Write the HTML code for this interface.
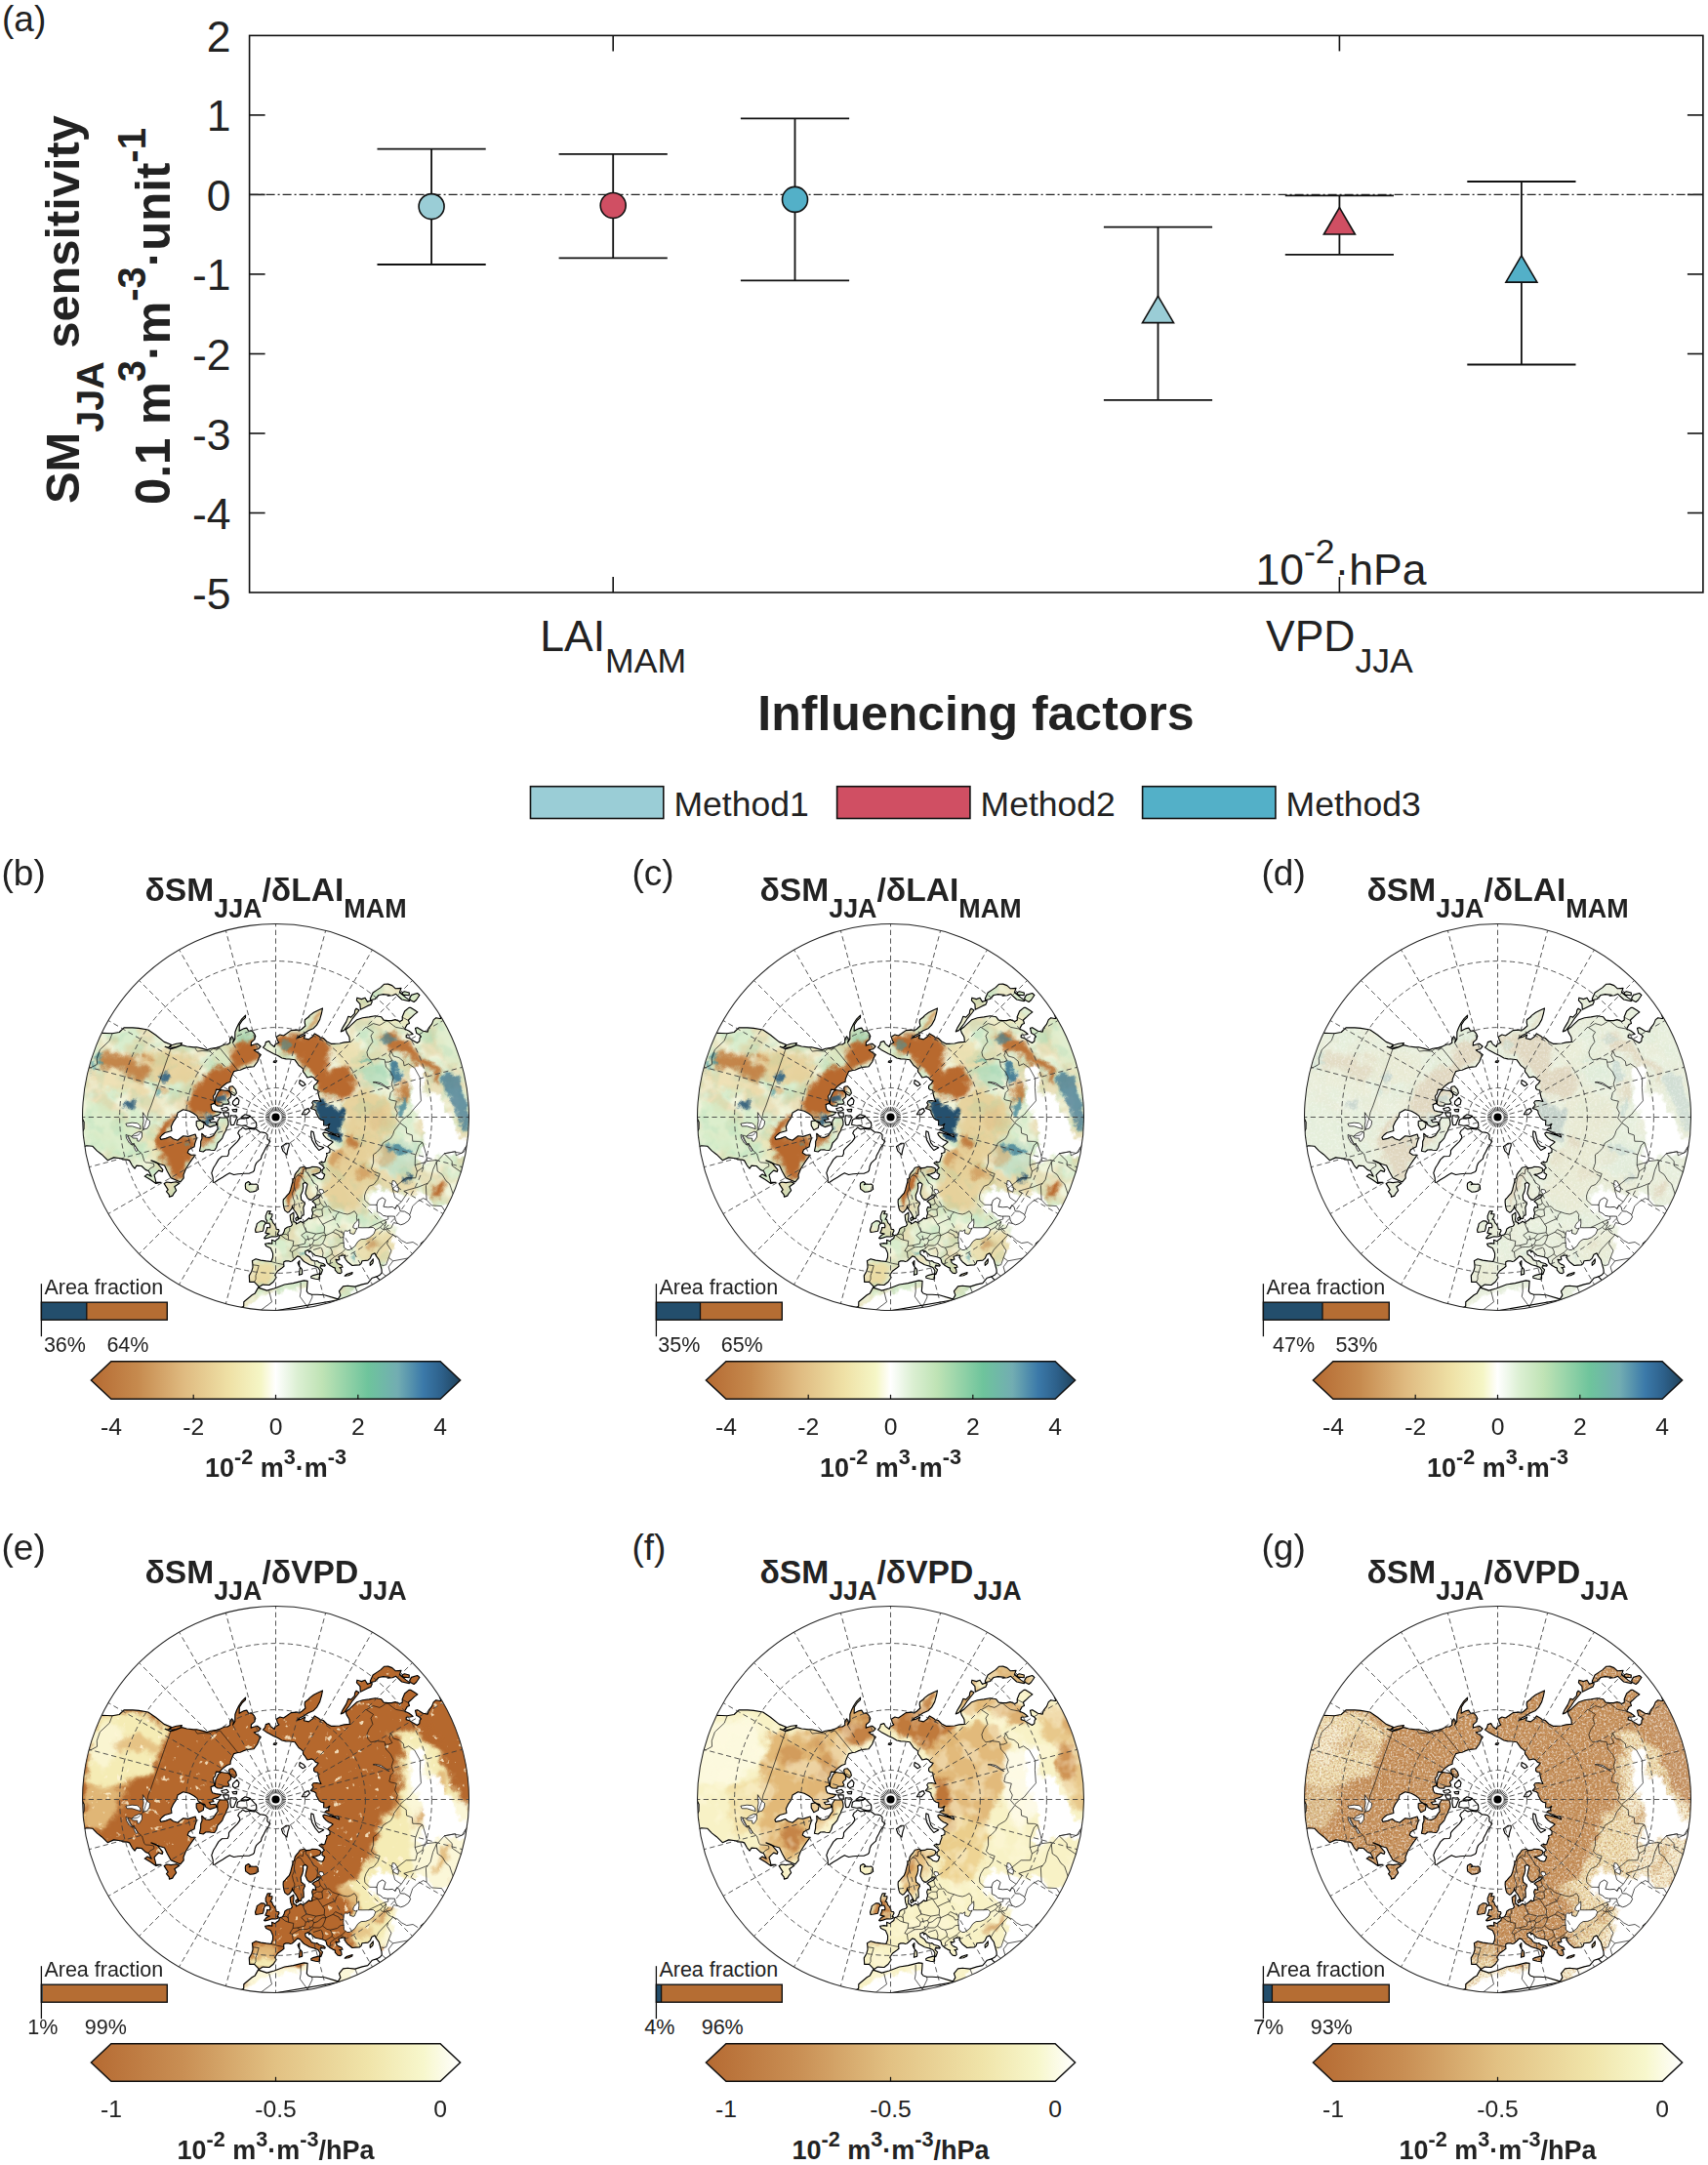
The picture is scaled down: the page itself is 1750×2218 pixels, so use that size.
<!DOCTYPE html><html><head><meta charset="utf-8"><title>Figure</title><style>html,body{margin:0;padding:0;background:#fff}svg{display:block}text{font-family:'Liberation Sans', Arial, Helvetica, sans-serif;fill:#222}</style></head><body><svg width="1750" height="2218" viewBox="0 0 1750 2218">
<defs>
<clipPath id="disc"><circle r="198.0"/></clipPath>
<path id="landp" d="M-192.0,-85.5L-178.3,-86.2L-167.5,-85.7L-160.3,-87.0L-155.5,-91.6L-146.6,-91.6L-140.3,-91.1L-130.8,-89.5L-123.1,-84.3L-114.3,-77.1L-107.1,-74.2L-109.8,-71.3L-113.4,-72.2L-107.6,-69.8L-102.5,-71.2L-96.4,-73.9L-91.1,-72.5L-84.1,-71.6L-81.0,-71.7L-75.5,-70.4L-70.2,-68.9L-66.6,-70.2L-60.7,-71.1L-56.6,-72.4L-52.2,-74.5L-49.3,-74.5L-46.7,-76.2L-47.0,-79.7L-44.9,-82.7L-43.1,-79.4L-44.0,-76.3L-41.7,-80.1L-41.7,-83.7L-41.6,-87.3L-39.9,-91.7L-37.8,-96.0L-34.7,-100.7L-30.9,-104.3L-31.1,-101.9L-34.1,-99.2L-37.2,-94.5L-37.3,-90.0L-37.4,-88.2L-35.2,-89.4L-32.2,-90.9L-29.7,-91.4L-27.8,-88.3L-24.6,-88.6L-22.2,-85.9L-20.7,-83.0L-22.0,-79.4L-25.0,-76.8L-25.3,-73.4L-22.7,-74.2L-18.8,-75.3L-15.4,-72.5L-18.0,-69.7L-22.3,-68.7L-19.8,-66.9L-15.3,-63.9L-17.0,-61.3L-18.9,-56.5L-22.4,-51.8L-26.2,-51.4L-29.5,-51.0L-33.5,-49.6L-36.4,-48.3L-38.8,-48.0L-42.9,-46.9L-44.6,-43.1L-46.3,-38.9L-46.4,-36.3L-50.0,-35.0L-53.7,-32.3L-57.7,-28.1L-61.0,-28.4L-62.2,-23.9L-64.1,-21.5L-63.5,-18.2L-62.5,-14.4L-66.4,-12.9L-66.0,-9.3L-64.8,-6.8L-61.7,-5.9L-55.6,-4.9L-58.9,-2.1L-62.6,-1.1L-65.1,0.0L-63.5,2.2L-68.2,3.0L-66.5,5.2L-61.5,4.8L-60.6,8.0L-64.5,9.1L-67.5,10.1L-71.5,8.1L-72.7,5.1L-75.9,4.0L-79.2,2.1L-80.8,-1.4L-83.9,-3.7L-88.5,-6.2L-94.8,-7.8L-100.5,-4.4L-101.6,0.0L-104.8,4.6L-107.1,9.4L-106.6,14.0L-113.6,16.0L-116.7,18.5L-118.6,20.9L-117.6,22.9L-112.7,21.9L-108.0,20.0L-105.1,22.3L-100.5,23.7L-94.8,19.3L-89.7,19.9L-82.4,17.5L-81.1,21.7L-82.8,26.9L-83.4,30.3L-89.1,33.3L-90.3,36.5L-86.9,38.7L-82.3,38.7L-86.2,43.9L-89.3,48.5L-92.2,53.3L-94.5,59.1L-94.3,62.4L-97.7,66.4L-100.5,65.2L-107.5,62.1L-111.1,55.4L-113.9,49.5L-118.9,48.0L-123.5,45.7L-127.6,44.4L-125.3,45.6L-120.9,47.6L-115.6,53.9L-116.2,55.9L-119.8,54.6L-122.5,57.1L-124.5,59.4L-123.5,62.9L-122.7,66.6L-117.5,66.7L-122.7,68.0L-128.4,64.0L-134.3,60.6L-131.4,58.5L-127.3,60.7L-130.1,55.2L-133.4,53.9L-137.5,50.0L-142.5,49.6L-144.5,52.6L-147.2,49.3L-149.9,44.4L-152.0,43.6L-156.6,43.4L-158.8,42.3L-165.9,41.4L-172.2,44.2L-178.3,38.2L-183.0,34.6L-187.8,29.7L-193.8,29.3L-199.6,31.6L-207.2,35.4L-208.4,27.4L-200.4,25.3L-196.9,20.7L-198.6,16.3L-196.5,12.0L-196.4,5.1L-198.0,1.7L-201.2,-1.8L-199.4,-8.7L-198.7,-13.9L-202.8,-22.4L-208.4,-27.1ZM-64.2,66.7L-64.3,62.1L-65.7,57.1L-63.8,52.0L-61.7,48.7L-58.6,43.4L-55.1,40.3L-49.4,40.0L-48.1,37.6L-48.0,34.2L-46.0,31.6L-42.7,28.3L-39.4,25.1L-36.8,21.7L-37.0,18.8L-38.8,16.5L-37.3,13.6L-35.2,12.1L-33.9,10.5L-30.6,12.4L-27.6,11.7L-24.1,12.3L-20.8,12.0L-18.9,13.2L-16.4,15.3L-13.1,15.6L-10.2,16.3L-8.5,18.2L-8.6,22.4L-5.7,24.8L-7.4,27.5L-10.2,31.4L-12.2,35.5L-14.4,39.6L-15.1,42.6L-17.7,44.9L-20.0,47.2L-21.2,50.0L-22.1,54.6L-23.1,55.9L-26.9,57.6L-32.0,57.8L-38.5,58.2L-42.9,59.0L-47.2,57.2L-50.4,59.0L-54.6,61.7L-58.9,64.2L-62.9,67.0ZM-26.4,76.7L-30.8,73.6L-31.2,70.0L-30.9,67.8L-28.0,66.0L-26.0,67.8L-27.3,69.3L-24.9,68.5L-22.3,68.7L-19.7,68.6L-18.3,69.9L-17.9,73.9L-20.3,75.6L-23.1,76.4ZM-11.9,123.9L-9.5,121.1L-6.3,119.6L-10.6,118.6L-9.1,115.1L-8.9,113.1L-5.9,113.3L-5.6,111.3L-6.6,108.6L-9.5,108.7L-8.9,106.1L-10.2,104.4L-10.3,101.1L-8.4,96.4L-5.2,96.3L-6.9,99.1L-3.5,99.3L-3.7,101.5L-5.5,104.7L-4.0,104.8L-2.8,108.1L-1.1,109.8L0.2,112.4L0.6,114.8L3.0,115.1L3.5,116.4L2.3,118.8L1.7,120.1L2.9,120.4L2.1,121.8L0.0,122.5L-3.8,122.4L-5.4,122.7L-7.8,123.6L-10.9,124.4ZM-20.4,118.0L-21.0,115.5L-19.8,112.0L-19.2,109.1L-15.3,106.4L-13.1,106.4L-11.4,106.9L-10.5,109.0L-12.0,110.8L-12.1,113.1L-13.1,116.7L-17.1,117.5ZM-109.0,81.6L-105.8,80.6L-104.1,77.8L-101.9,75.1L-103.7,71.3L-98.7,67.8L-101.9,66.2L-107.3,67.1L-111.6,66.5L-114.3,68.1L-110.3,74.4L-112.0,76.1L-109.3,79.4ZM-108.8,-71.7L-106.6,-73.8L-101.7,-75.3L-96.1,-75.9L-97.5,-73.5L-102.0,-72.0L-105.9,-71.1ZM-78.1,34.8L-76.9,29.5L-76.8,25.0L-75.5,21.7L-75.8,16.8L-71.6,20.5L-68.2,20.9L-63.9,18.9L-61.7,15.4L-59.3,12.1L-59.7,9.5L-59.7,4.2L-57.4,0.5L-49.7,0.4L-48.6,4.3L-48.5,7.7L-50.5,11.7L-51.0,13.7L-53.1,17.3L-54.8,21.6L-57.1,24.2L-59.5,26.5L-60.8,31.0L-62.7,34.0L-66.4,33.8L-68.3,33.3L-71.8,33.5L-74.3,35.5ZM-62.2,-13.2L-61.6,-20.0L-58.9,-25.6L-56.1,-28.0L-52.3,-27.2L-48.9,-27.1L-46.1,-24.5L-45.8,-20.9L-49.0,-17.8L-47.6,-14.5L-49.5,-13.3L-54.2,-13.5L-54.7,-11.4L-59.4,-11.5ZM-47.1,-31.2L-44.1,-31.7L-41.0,-28.2L-40.1,-24.5L-42.2,-22.0L-44.9,-23.4L-47.3,-26.8L-47.9,-29.9ZM-39.9,7.7L-39.0,2.7L-36.0,1.3L-31.5,1.6L-28.5,0.0L-25.5,-0.4L-22.3,3.1L-20.0,5.4L-19.6,9.1L-21.1,11.4L-24.5,11.4L-28.2,10.3L-31.9,8.5L-35.0,8.7ZM-45.7,8.1L-42.9,8.0L-41.8,5.1L-39.7,0.0L-40.9,-1.8L-43.0,-1.5L-46.3,-1.6L-46.6,3.3ZM-35.4,0.0L-31.4,-2.7L-26.1,-1.1L-28.5,1.0L-33.0,1.4ZM-43.9,-16.0L-39.7,-20.2L-37.5,-17.1L-38.4,-13.2L-42.0,-11.7L-44.1,-13.5ZM-44.5,-7.8L-39.8,-8.1L-40.2,-5.6L-43.3,-5.7ZM-54.1,-4.7L-48.3,-4.6L-48.2,-0.4L-51.9,-0.5ZM-55.8,-8.8L-50.2,-10.2L-48.2,-7.6L-50.9,-6.2L-54.5,-6.7ZM-81.3,4.3L-77.5,3.4L-73.3,6.4L-74.3,11.1L-78.7,13.2L-81.3,8.5ZM49.2,31.3L44.3,34.0L40.7,29.6L37.0,23.1L36.2,18.4L36.4,14.3L38.6,15.2L39.9,21.2L41.2,26.2L43.8,29.5L48.4,30.8ZM11.4,38.6L7.4,34.7L5.9,30.3L8.2,28.6L10.8,26.7L13.6,26.7L13.7,29.4L12.7,32.1L11.9,35.6ZM34.9,-6.2L31.4,-2.7L26.8,-2.8L29.2,-6.8L33.4,-8.9ZM30.5,-33.3L27.6,-31.8L24.2,-34.5L24.6,-37.9L28.2,-36.1ZM1.2,-57.7L0.0,-55.9L-2.3,-56.4L-1.5,-57.7ZM85.5,-109.5L83.2,-106.5L78.8,-101.2L75.1,-95.5L69.9,-88.9L66.7,-87.6L68.7,-91.9L72.2,-97.6L74.4,-103.2L77.2,-102.4L80.8,-106.1L81.2,-109.3L82.6,-111.3ZM98.9,-118.7L97.4,-115.3L94.4,-114.1L86.8,-110.3L86.4,-115.9L82.9,-119.7L83.4,-122.3L87.9,-120.9L91.5,-122.3L94.0,-118.1L96.6,-119.2ZM97.4,-119.9L101.9,-121.0L105.6,-125.0L110.2,-125.9L116.6,-125.1L114.7,-124.3L119.7,-124.8L123.1,-126.2L129.2,-120.5L136.8,-118.9L137.6,-119.6L133.6,-122.4L126.9,-127.8L128.5,-132.1L122.8,-131.7L119.3,-134.9L115.2,-136.4L111.2,-136.3L107.6,-132.9L103.5,-130.1L99.6,-127.5L96.8,-121.3ZM137.9,-119.9L141.6,-118.0L144.0,-120.0L147.4,-125.0L145.1,-127.0L139.0,-125.1L137.2,-121.9ZM130.8,-125.4L136.7,-124.8L136.8,-127.5L131.9,-128.7L129.3,-127.5ZM36.2,163.3L38.3,162.1L44.8,160.4L45.1,165.0L44.6,166.3L40.7,165.7L36.5,164.8ZM23.9,161.8L24.9,153.6L26.9,155.8L27.2,160.6ZM24.2,153.0L24.4,147.1L22.6,149.2ZM96.8,151.9L96.6,149.3L99.8,145.3L99.8,148.0L99.2,149.8ZM70.7,162.7L72.4,161.1L78.6,159.0L78.3,160.5L74.6,162.2ZM21.0,106.1L20.2,103.9L22.3,102.1L23.1,105.0ZM-17.1,173.9L-19.0,171.8L-21.9,168.8L-26.8,168.9L-27.2,162.4L-24.7,158.0L-23.5,153.8L-23.6,150.9L-24.1,147.2L-20.4,145.2L-15.4,146.6L-9.8,147.4L-4.7,148.0L-3.0,143.8L-2.9,139.6L-3.6,137.8L-5.2,134.3L-9.9,132.0L-10.9,129.8L-6.8,129.1L-3.6,129.6L-4.0,125.8L-0.4,127.2L0.4,125.9L3.3,124.1L3.8,121.4L6.9,120.3L8.4,117.8L9.4,114.4L11.9,112.8L15.7,111.7L17.0,110.1L15.2,105.4L14.7,100.5L18.3,97.6L18.5,101.6L17.9,105.0L18.9,107.2L21.0,108.1L20.9,109.5L23.4,108.3L25.6,106.8L27.5,108.0L31.0,106.0L34.2,103.3L35.3,104.3L37.3,103.6L37.0,101.8L38.1,98.8L37.1,94.6L38.1,92.1L41.3,92.8L40.4,88.6L37.5,86.3L39.5,84.8L43.9,82.6L46.4,79.7L43.1,79.4L40.0,82.0L37.4,84.0L36.0,84.9L33.9,84.0L32.4,82.6L30.4,78.3L30.9,75.3L31.8,71.5L32.5,68.7L30.5,66.9L27.9,68.0L28.2,72.3L27.4,76.0L25.7,79.9L26.2,84.7L27.9,85.9L30.1,88.5L29.6,89.4L28.3,92.5L28.6,95.8L28.7,100.2L26.3,101.5L26.2,103.6L24.0,104.1L23.7,103.5L22.7,101.4L20.8,97.8L19.1,95.5L17.8,93.4L17.0,91.0L16.5,93.7L13.6,97.1L12.0,97.6L9.4,95.6L8.5,93.1L7.9,90.0L7.6,86.8L7.8,84.5L9.8,82.4L11.9,79.9L13.8,78.0L15.2,74.5L16.0,71.1L17.1,67.0L17.7,63.6L19.0,62.3L19.7,58.8L21.2,56.7L22.8,55.0L24.9,51.7L27.2,51.2L29.9,50.8L30.7,52.1L32.5,52.1L35.0,51.9L37.0,50.9L42.0,51.0L45.4,52.2L46.5,54.1L45.2,56.8L40.9,58.4L37.5,58.9L40.8,60.4L43.6,62.7L47.1,63.7L48.9,62.6L49.9,59.5L50.2,58.8L47.5,57.0L47.7,53.9L49.8,51.9L48.0,49.8L44.5,47.1L46.9,45.6L48.7,46.4L50.5,45.4L51.1,42.9L52.6,38.9L52.0,37.1L53.4,36.7L55.4,36.0L55.6,32.7L53.2,30.1L56.8,27.1L58.6,25.5L57.0,24.4L54.2,23.2L51.6,21.4L49.3,18.9L48.2,16.6L49.5,15.6L52.5,16.2L56.3,17.4L60.8,18.6L65.1,20.5L64.2,17.8L59.6,17.1L55.3,15.5L52.5,14.1L50.2,13.0L52.2,11.4L54.6,11.6L54.1,9.5L55.4,6.8L52.7,8.6L49.1,8.2L49.3,3.4L46.6,2.7L44.5,1.2L43.0,-1.5L41.6,-4.0L41.3,-6.5L39.2,-8.0L37.2,-8.6L35.8,-9.1L37.5,-11.1L38.6,-12.5L37.2,-14.7L38.6,-16.8L42.2,-17.0L46.4,-16.0L44.8,-19.5L43.7,-23.7L43.2,-27.5L40.7,-28.0L39.0,-29.4L39.2,-32.1L41.9,-34.6L43.6,-37.3L40.9,-38.1L39.0,-40.4L36.8,-41.6L33.6,-40.7L32.3,-40.6L29.9,-44.3L28.0,-46.6L28.0,-49.4L26.5,-50.9L23.6,-53.0L20.4,-57.6L19.7,-58.8L18.0,-59.0L13.7,-59.5L10.5,-59.6L6.4,-60.5L2.2,-62.9L-2.3,-65.1L-5.9,-67.0L-9.7,-69.1L-13.0,-71.4L-11.0,-73.7L-10.1,-76.9L-6.8,-77.9L-5.2,-74.9L-1.3,-72.0L-0.6,-74.5L3.3,-76.6L2.0,-78.2L0.7,-82.3L4.4,-84.5L8.0,-83.5L11.3,-85.7L15.7,-88.9L21.5,-89.4L24.6,-88.9L26.7,-90.3L30.4,-93.5L29.7,-97.2L29.9,-99.8L33.8,-102.7L34.8,-104.1L39.0,-107.2L43.0,-109.3L48.0,-111.6L47.0,-106.5L45.2,-100.1L42.0,-94.3L38.8,-91.1L33.1,-88.5L28.7,-85.6L24.7,-83.5L21.7,-81.1L25.9,-82.2L30.2,-84.4L28.9,-80.8L33.8,-79.6L37.4,-82.2L39.9,-85.6L44.2,-83.1L45.6,-81.6L48.7,-81.0L52.3,-77.5L56.7,-75.2L60.9,-75.2L65.6,-75.5L70.2,-76.6L75.8,-77.1L75.6,-80.5L75.3,-82.2L72.7,-86.6L71.8,-89.6L73.0,-90.7L75.7,-92.8L79.4,-96.3L83.2,-99.8L89.0,-101.7L95.7,-102.6L102.0,-103.8L108.2,-102.7L110.7,-99.4L115.0,-98.9L118.7,-98.9L122.5,-99.9L127.3,-98.0L129.8,-99.6L129.7,-102.8L132.1,-108.5L136.5,-112.1L138.5,-112.1L142.6,-109.4L145.4,-107.6L142.0,-105.1L138.4,-101.7L135.9,-99.5L137.0,-96.0L134.6,-94.9L132.6,-91.4L132.4,-90.3L136.3,-88.5L138.7,-86.7L140.6,-85.1L137.9,-84.5L133.8,-84.3L133.6,-81.9L137.2,-80.8L139.8,-79.1L144.1,-76.6L144.9,-76.0L147.3,-77.7L147.6,-81.1L148.9,-82.5L146.8,-84.8L144.3,-86.0L143.0,-91.1L145.2,-91.8L150.9,-88.2L155.7,-87.4L156.6,-91.2L160.0,-95.4L161.8,-99.9L164.3,-101.8L168.0,-101.0L169.4,-101.0L167.9,-104.9L171.7,-106.5L181.1,-106.7L201.4,-73.3L213.5,-18.7L211.1,37.2L194.2,90.6L179.8,116.7L175.3,116.0L171.7,124.8L165.1,126.7L157.2,128.2L151.7,127.3L148.9,129.4L148.6,131.5L149.2,134.4L154.8,136.0L164.2,137.8L129.0,171.2L117.6,169.2L114.6,164.0L116.1,170.3L116.5,171.5L111.7,170.8L106.5,166.9L103.3,163.4L106.9,161.5L108.7,159.3L108.5,156.1L107.4,152.2L105.8,146.2L102.9,142.2L101.6,139.4L98.5,140.7L96.8,144.6L94.5,146.6L88.5,147.2L87.6,149.9L85.7,151.5L81.6,151.6L78.4,152.0L75.2,149.5L73.6,148.2L71.7,145.8L70.6,143.5L71.2,141.6L69.4,141.7L67.5,141.4L66.4,142.3L64.5,142.8L65.1,144.9L64.5,146.3L61.5,145.7L62.7,149.1L64.4,150.4L67.6,151.8L68.5,153.8L65.4,154.0L67.1,155.7L67.6,159.1L66.3,160.1L63.5,159.6L60.8,156.7L60.9,154.6L58.4,153.6L55.2,151.7L52.5,149.1L51.6,145.6L50.2,144.2L47.6,143.2L40.6,141.7L37.2,138.9L35.2,136.9L34.3,138.6L33.2,136.0L30.2,137.4L30.6,140.5L34.3,142.9L36.8,146.4L40.9,147.5L42.4,147.1L44.7,149.0L48.8,150.0L50.8,151.7L50.2,152.6L46.3,151.6L45.6,154.1L48.1,156.4L47.1,159.0L46.2,161.2L45.1,160.3L45.4,157.2L43.3,154.0L39.4,152.4L38.5,152.2L34.9,151.3L31.8,149.4L29.1,148.1L26.3,145.0L24.7,143.1L22.3,142.4L19.6,145.0L16.8,147.5L15.0,148.0L13.7,147.4L10.3,147.4L8.3,148.2L8.2,150.7L8.5,152.8L5.7,155.1L2.2,157.4L-0.8,161.8L0.6,164.3L-2.4,168.8L-6.6,172.0L-13.2,171.6ZM-18.0,174.6L-9.0,177.6L-1.5,175.5L9.0,171.5L17.9,170.1L28.9,167.4L32.6,167.9L32.3,172.5L31.8,178.4L33.4,180.5L37.0,181.7L42.6,181.7L49.9,182.3L62.2,185.9L64.1,186.1L66.4,182.4L64.9,178.3L69.0,173.4L73.7,172.7L81.3,173.6L88.5,171.4L94.3,170.1L96.6,167.4L98.9,164.7L103.3,163.4L106.5,166.9L112.2,172.8L119.9,177.7L-53.7,207.5L-46.0,200.9L-32.8,193.7L-32.7,189.3L-24.3,182.3L-21.2,180.4Z"/>
<path id="waterp" d="M75.7,136.0L80.9,132.5L84.3,127.3L87.6,125.1L92.3,124.8L96.2,123.2L100.5,119.7L102.3,115.3L100.0,113.0L95.0,113.2L88.6,113.3L84.7,113.2L85.3,109.2L85.2,104.4L82.3,107.2L80.0,110.1L79.1,112.9L81.7,114.5L83.7,113.5L82.3,115.8L80.6,119.5L79.4,119.9L76.0,118.8L76.3,115.3L73.9,116.8L71.3,116.4L69.9,117.7L69.5,121.9L69.3,126.0L69.8,130.2L69.9,133.7L71.7,134.8L73.3,136.0ZM103.3,89.8L105.0,85.0L109.3,82.4L112.6,84.9L110.4,91.7L114.8,92.3L119.7,91.9L122.6,94.1L124.1,90.2L126.5,91.9L127.7,96.3L132.0,96.6L136.8,99.4L138.1,102.2L135.9,106.2L131.6,109.2L128.2,110.3L124.7,108.8L122.6,105.5L122.0,101.7L118.9,101.5L114.0,101.6L110.0,100.8L107.3,98.4L103.9,96.9L103.8,91.8ZM119.7,65.0L118.8,70.0L120.9,74.7L125.3,76.8L126.1,72.8L124.3,68.9L122.1,65.5ZM116.2,-29.0L111.9,-32.1L107.6,-35.0L101.9,-36.1L99.7,-35.7L102.3,-35.2L106.9,-33.7L111.4,-31.5L115.1,-29.1ZM-136.1,-4.8L-132.3,1.2L-128.9,4.0L-129.4,7.9L-131.5,11.5L-136.2,12.9L-136.2,8.3L-135.4,3.5L-136.1,-1.2ZM-153.6,6.7L-147.3,5.7L-141.9,6.2L-139.0,8.5L-138.4,12.1L-141.6,11.1L-147.1,9.3L-152.4,9.3ZM-147.8,19.7L-144.6,17.0L-139.6,14.7L-137.0,15.6L-137.1,20.5L-139.9,24.7L-141.7,24.5L-141.8,21.7L-146.5,21.4ZM-153.5,18.0L-151.6,18.6L-147.3,27.3L-147.0,28.8L-150.0,26.5L-153.0,21.5ZM-145.7,26.5L-142.8,31.7L-141.2,34.2L-143.2,34.9L-145.2,30.9ZM47.3,78.8L44.4,76.8L44.9,73.9L48.3,74.4L49.4,76.7Z"/>
<path id="icep" d="M-64.2,66.7L-64.3,62.1L-65.7,57.1L-63.8,52.0L-61.7,48.7L-58.6,43.4L-55.1,40.3L-49.4,40.0L-48.1,37.6L-48.0,34.2L-46.0,31.6L-42.7,28.3L-39.4,25.1L-36.8,21.7L-37.0,18.8L-38.8,16.5L-37.3,13.6L-35.2,12.1L-33.9,10.5L-30.6,12.4L-27.6,11.7L-24.1,12.3L-20.8,12.0L-18.9,13.2L-16.4,15.3L-13.1,15.6L-10.2,16.3L-8.5,18.2L-8.6,22.4L-5.7,24.8L-7.4,27.5L-10.2,31.4L-12.2,35.5L-14.4,39.6L-15.1,42.6L-17.7,44.9L-20.0,47.2L-21.2,50.0L-22.1,54.6L-23.1,55.9L-26.9,57.6L-32.0,57.8L-38.5,58.2L-42.9,59.0L-47.2,57.2L-50.4,59.0L-54.6,61.7L-58.9,64.2L-62.9,67.0ZM-39.9,7.7L-39.0,2.7L-36.0,1.3L-31.5,1.6L-28.5,0.0L-25.5,-0.4L-22.3,3.1L-20.0,5.4L-19.6,9.1L-21.1,11.4L-24.5,11.4L-28.2,10.3L-31.9,8.5L-35.0,8.7ZM-45.7,8.1L-42.9,8.0L-41.8,5.1L-39.7,0.0L-40.9,-1.8L-43.0,-1.5L-46.3,-1.6L-46.6,3.3ZM-35.4,0.0L-31.4,-2.7L-26.1,-1.1L-28.5,1.0L-33.0,1.4ZM-43.9,-16.0L-39.7,-20.2L-37.5,-17.1L-38.4,-13.2L-42.0,-11.7L-44.1,-13.5ZM-44.5,-7.8L-39.8,-8.1L-40.2,-5.6L-43.3,-5.7ZM-54.1,-4.7L-48.3,-4.6L-48.2,-0.4L-51.9,-0.5ZM-55.8,-8.8L-50.2,-10.2L-48.2,-7.6L-50.9,-6.2L-54.5,-6.7ZM49.2,31.3L44.3,34.0L40.7,29.6L37.0,23.1L36.2,18.4L36.4,14.3L38.6,15.2L39.9,21.2L41.2,26.2L43.8,29.5L48.4,30.8ZM11.4,38.6L7.4,34.7L5.9,30.3L8.2,28.6L10.8,26.7L13.6,26.7L13.7,29.4L12.7,32.1L11.9,35.6ZM34.9,-6.2L31.4,-2.7L26.8,-2.8L29.2,-6.8L33.4,-8.9ZM30.5,-33.3L27.6,-31.8L24.2,-34.5L24.6,-37.9L28.2,-36.1ZM1.2,-57.7L0.0,-55.9L-2.3,-56.4L-1.5,-57.7Z"/>
<path id="borderp" d="M-107.6,-69.8L-127.7,-11.6L-130.6,-4.6L-131.7,1.1L-133.3,5.8L-135.2,12.3L-138.4,15.8L-140.9,18.5L-147.8,19.7L-150.9,18.5L-151.8,20.0L-148.6,26.2L-145.4,28.3L-144.1,29.3L-140.8,34.3L-137.0,37.5L-134.7,45.1L-133.2,46.4L-128.6,46.8L-125.0,47.5L-124.6,50.4L-128.6,52.5L-130.4,54.6M-38.8,-48.0L-57.2,-70.7L-60.3,-69.4L-64.3,-70.1L-67.5,-67.5L-75.5,-68.0L-80.3,-67.4L-82.7,-70.7M-167.5,-85.7L-170.3,-78.3L-180.1,-69.1L-183.2,-60.2L-183.0,-54.2L-189.4,-50.7L-193.7,-50.1L-196.9,-45.4L-194.3,-42.4L-194.9,-39.3L-202.0,-36.7L-209.5,-33.9L-212.6,-26.9M31.3,52.5L30.7,55.7L32.8,58.0L36.5,63.1L38.8,67.2L43.0,70.2L42.9,75.8L42.1,79.9M22.3,59.5L20.2,62.2L19.2,67.1L18.8,73.7L16.9,78.0L18.1,83.6L19.4,86.6L18.9,90.6L18.8,93.2M22.3,59.5L25.4,59.9L27.2,62.6L30.1,67.1M22.3,59.5L25.0,57.4L27.8,58.2L28.4,53.4L31.3,52.5M44.2,82.8L45.7,87.8L49.2,91.8L54.7,91.4L58.2,95.0L61.3,96.2L65.1,97.3L69.1,98.7L73.7,99.5L76.9,98.4L80.7,96.2L83.2,99.8L82.9,103.1L83.3,105.9M40.8,89.9L44.6,89.5L45.7,87.8M37.5,97.6L42.1,94.6L47.4,94.6L49.2,91.8M38.9,99.8L42.7,101.5L44.4,102.2L48.1,100.9L47.4,94.6M37.3,103.6L42.8,101.8L46.8,107.7L50.1,112.5L49.7,118.2L41.2,119.6L36.2,118.4L31.4,117.3L29.3,112.7L27.5,108.0M48.0,109.8L54.4,106.7L61.1,103.8L62.1,100.1L65.1,97.3M49.7,118.2L51.4,121.2L58.7,117.8L61.2,115.0L68.4,118.5M58.7,117.8L64.7,120.6L66.3,123.7L69.7,122.6M51.4,121.2L50.0,125.5L48.0,129.6L52.3,132.8L55.9,133.7L63.0,132.0L66.6,129.1L70.0,128.9M41.2,119.6L37.9,123.9L39.1,126.4L42.7,125.3L47.8,121.2L51.4,121.2M39.1,126.4L37.6,130.1L39.0,131.5L44.8,131.5L48.0,129.6M31.4,117.3L26.2,121.0L30.8,125.5L37.9,123.9M30.8,125.5L29.9,129.6L22.2,131.5L17.6,131.9M22.2,131.5L24.7,133.2L29.2,133.0L32.4,132.9L37.6,130.1M-4.7,148.0L1.8,149.8L8.4,151.0M5.3,121.0L9.8,124.5L13.2,125.8L18.3,126.9L17.6,131.9L14.4,137.1L16.9,137.9L17.7,143.8L19.1,145.1M7.1,120.2L10.5,119.7L12.8,121.5L13.2,125.8M14.3,113.2L14.3,116.6L12.4,118.1L12.8,121.5M16.9,137.9L20.3,135.7L24.7,133.2M16.3,107.6L18.7,107.2M-23.4,151.3L-17.3,152.1L-19.2,158.8L-20.5,162.3L-20.4,166.0L-21.9,168.8M33.2,136.3L39.0,131.5M46.0,133.7L47.1,134.4L48.5,139.2L47.9,143.1M38.5,136.0L46.0,133.7M55.9,133.7L57.8,137.5L57.8,140.2L60.4,143.0L67.7,138.9L71.5,135.0M60.4,143.0L56.1,146.3L55.6,151.1M57.8,140.2L53.5,143.0L50.8,144.4M67.7,138.9L69.7,141.1M102.6,115.5L107.1,112.9L110.5,115.6L112.9,114.9L115.5,118.4L120.0,120.8L115.1,126.0L106.0,135.6L103.3,140.1L102.9,141.7M95.0,113.2L104.8,108.6L111.3,105.6L115.3,104.5L115.1,101.5M107.1,112.9L109.8,109.8L113.3,107.2L111.3,105.6M110.5,115.6L113.3,107.2M112.9,114.9L118.3,113.5L120.9,108.1L125.0,109.0M137.4,99.9L140.3,91.1L145.4,86.4L151.2,83.1L154.6,84.7M120.0,120.8L124.7,122.5L128.9,126.3L134.2,129.1L140.6,128.0L145.7,131.2M115.1,126.0L114.1,129.9L118.4,136.7L115.7,143.9L113.2,151.3L109.6,152.0L108.2,151.1M115.7,143.9L120.2,147.3L115.6,153.4L118.3,162.8L114.7,163.9M120.2,147.3L141.8,143.3L146.3,138.8L146.9,132.8M108.7,159.3L114.4,164.1M104.1,89.9L96.3,89.8L91.3,85.1L91.0,80.5L92.4,76.2L95.7,70.8L100.4,69.0L104.4,64.0L106.7,58.0L101.0,56.0L97.9,53.2L100.1,46.7L100.0,38.4L103.8,35.7L107.5,31.8L110.0,26.4L117.8,21.8L120.1,18.0L121.4,13.8L127.4,6.0M127.4,6.0L123.1,1.1L124.8,-4.4L122.1,-9.6L123.8,-16.3L117.8,-17.6L116.3,-18.4L117.8,-25.0L120.7,-27.9L118.7,-34.0L120.6,-40.4L117.7,-46.4L113.0,-51.5L112.1,-56.4M112.1,-56.4L111.6,-58.9L103.7,-59.9L97.5,-58.6L94.3,-62.4L93.4,-66.6L95.7,-72.1L99.4,-77.1L97.5,-83.3L100.1,-87.1L92.9,-91.9L100.0,-95.9L106.4,-94.1L109.5,-95.9L113.1,-98.3L114.9,-98.4M127.5,4.9L131.7,1.1L136.8,-2.4L141.8,-8.7L148.9,-16.7L147.9,-30.1L148.2,-39.7L142.3,-50.4L136.1,-54.7L131.6,-52.6L130.8,-57.2L126.4,-60.9L120.6,-62.5L118.1,-67.7L116.3,-63.2L119.4,-58.0L115.6,-56.4L112.1,-56.4M127.4,6.0L133.7,10.5L134.1,16.5L139.8,18.4L140.3,24.7L147.1,24.9L150.5,26.0L153.8,36.9L155.3,45.1L164.1,44.0L165.2,45.8L172.7,37.3L182.8,35.5L190.5,37.0L194.9,30.2L203.1,19.6L206.8,7.2L206.0,-7.2L199.7,-21.0L204.3,-26.9M150.5,26.0L147.1,28.6L143.0,39.7L142.7,49.1L144.9,55.6L143.3,62.3L133.6,62.3L119.6,73.3L122.2,82.4L128.7,86.8L121.7,93.4M128.7,86.8L134.7,77.8L131.3,75.8L136.7,74.2L145.8,71.7L155.8,67.7L158.6,64.1L161.1,53.9L164.8,45.7M155.8,67.7L153.9,70.1L154.6,84.7L159.7,90.4L170.0,91.1L173.7,96.7M144.9,55.6L150.5,51.8L151.9,46.4L155.3,45.1M151.9,46.4L142.7,49.1M164.8,45.7L165.7,55.5L170.6,58.8L174.4,65.2L178.2,68.4L182.1,79.9L173.7,96.7M173.7,96.7L186.5,95.1M172.7,37.3L184.1,35.1L184.8,39.3L192.8,35.7L194.9,30.2M180.7,49.8L180.7,45.1L172.7,37.3M180.7,49.8L189.9,56.2L194.3,68.8L197.5,71.9M132.4,-90.3L123.1,-92.1L120.3,-94.0L114.9,-98.4M135.6,-99.2L131.8,-101.2L129.4,-102.5M-6.8,178.0L-4.0,189.3L-17.4,199.3L-30.7,200.9L-31.4,204.9M25.6,169.5L25.7,178.6L24.8,183.8L32.6,194.5L37.5,184.4L37.0,181.7M81.3,173.6L85.0,182.4L90.6,194.2M32.6,194.5L35.1,203.1L37.2,211.1"/>
<filter id="mG" x="0" y="0" width="1" height="1" color-interpolation-filters="sRGB"><feTurbulence type="fractalNoise" baseFrequency="0.045" numOctaves="3" seed="5"/><feColorMatrix type="matrix" values="0 0 0 0 0.725  0 0 0 0 0.886  0 0 0 0 0.737  5 0 0 0 -2.1"/></filter><filter id="mG2" x="0" y="0" width="1" height="1" color-interpolation-filters="sRGB"><feTurbulence type="fractalNoise" baseFrequency="0.06" numOctaves="3" seed="15"/><feColorMatrix type="matrix" values="0 0 0 0 0.498  0 0 0 0 0.780  0 0 0 0 0.651  6 0 0 0 -3.1"/></filter><filter id="mT" x="0" y="0" width="1" height="1" color-interpolation-filters="sRGB"><feTurbulence type="fractalNoise" baseFrequency="0.04" numOctaves="3" seed="21"/><feColorMatrix type="matrix" values="0 0 0 0 0.886  0 0 0 0 0.761  0 0 0 0 0.541  5 0 0 0 -2.2"/></filter><filter id="mT2" x="0" y="0" width="1" height="1" color-interpolation-filters="sRGB"><feTurbulence type="fractalNoise" baseFrequency="0.05" numOctaves="3" seed="33"/><feColorMatrix type="matrix" values="0 0 0 0 0.812  0 0 0 0 0.604  0 0 0 0 0.361  6 0 0 0 -3.0"/></filter><filter id="mW" x="0" y="0" width="1" height="1" color-interpolation-filters="sRGB"><feTurbulence type="fractalNoise" baseFrequency="0.09" numOctaves="3" seed="41"/><feColorMatrix type="matrix" values="0 0 0 0 1.000  0 0 0 0 1.000  0 0 0 0 1.000  6 0 0 0 -3.0"/></filter><filter id="mWs" x="0" y="0" width="1" height="1" color-interpolation-filters="sRGB"><feTurbulence type="fractalNoise" baseFrequency="0.12" numOctaves="3" seed="47"/><feColorMatrix type="matrix" values="0 0 0 0 1.000  0 0 0 0 0.965  0 0 0 0 0.847  10 0 0 0 -7.0"/></filter><filter id="mW2" x="0" y="0" width="1" height="1" color-interpolation-filters="sRGB"><feTurbulence type="fractalNoise" baseFrequency="0.05" numOctaves="3" seed="43"/><feColorMatrix type="matrix" values="0 0 0 0 1.000  0 0 0 0 0.984  0 0 0 0 0.878  5 0 0 0 -2.3"/></filter><filter id="mB" x="0" y="0" width="1" height="1" color-interpolation-filters="sRGB"><feTurbulence type="fractalNoise" baseFrequency="0.05" numOctaves="3" seed="51"/><feColorMatrix type="matrix" values="0 0 0 0 0.710  0 0 0 0 0.408  0 0 0 0 0.176  6 0 0 0 -2.8"/></filter><filter id="mN" x="0" y="0" width="1" height="1" color-interpolation-filters="sRGB"><feTurbulence type="fractalNoise" baseFrequency="0.07" numOctaves="3" seed="61"/><feColorMatrix type="matrix" values="0 0 0 0 0.169  0 0 0 0 0.345  0 0 0 0 0.471  7 0 0 0 -3.9"/></filter><filter id="mY" x="0" y="0" width="1" height="1" color-interpolation-filters="sRGB"><feTurbulence type="fractalNoise" baseFrequency="0.045" numOctaves="3" seed="71"/><feColorMatrix type="matrix" values="0 0 0 0 0.965  0 0 0 0 0.937  0 0 0 0 0.722  5 0 0 0 -2.2"/></filter><filter id="mfine" x="0" y="0" width="1" height="1" color-interpolation-filters="sRGB"><feTurbulence type="fractalNoise" baseFrequency="0.45" numOctaves="2" seed="81"/><feColorMatrix type="matrix" values="0 0 0 0 1.000  0 0 0 0 1.000  0 0 0 0 1.000  4 0 0 0 -1.9"/></filter><filter id="mfineB" x="0" y="0" width="1" height="1" color-interpolation-filters="sRGB"><feTurbulence type="fractalNoise" baseFrequency="0.5" numOctaves="2" seed="91"/><feColorMatrix type="matrix" values="0 0 0 0 0.659  0 0 0 0 0.353  0 0 0 0 0.133  4 0 0 0 -1.9"/></filter><clipPath id="landclip"><use href="#landp"/></clipPath>
<filter id="blur" x="-20%" y="-20%" width="140%" height="140%"><feGaussianBlur stdDeviation="4"/></filter>
<filter id="blur1" x="-20%" y="-20%" width="140%" height="140%"><feGaussianBlur stdDeviation="1.6"/></filter><filter id="rough" x="-10%" y="-10%" width="120%" height="120%" color-interpolation-filters="sRGB"><feGaussianBlur in="SourceGraphic" stdDeviation="2.2" result="b"/><feTurbulence type="fractalNoise" baseFrequency="0.07" numOctaves="3" seed="4" result="n"/><feDisplacementMap in="b" in2="n" scale="16" xChannelSelector="R" yChannelSelector="G"/></filter>
<filter id="rough2" x="-10%" y="-10%" width="120%" height="120%" color-interpolation-filters="sRGB"><feGaussianBlur in="SourceGraphic" stdDeviation="1.2" result="b"/><feTurbulence type="fractalNoise" baseFrequency="0.11" numOctaves="3" seed="9" result="n"/><feDisplacementMap in="b" in2="n" scale="12" xChannelSelector="R" yChannelSelector="G"/></filter>
<filter id="fade" x="0" y="0" width="1" height="1" color-interpolation-filters="sRGB"><feColorMatrix type="matrix" values="0.18 0 0 0 0.75  0 0.18 0 0 0.77  0 0 0.18 0 0.72  0 0 0 1 0"/></filter><filter id="blur2" x="-20%" y="-20%" width="140%" height="140%"><feGaussianBlur stdDeviation="7"/></filter>
<linearGradient id="cb1" x1="0" x2="1" y1="0" y2="0">
<stop offset="0" stop-color="#b56a32"/><stop offset="0.125" stop-color="#c68a4e"/><stop offset="0.25" stop-color="#dfba80"/><stop offset="0.375" stop-color="#efe1a6"/><stop offset="0.46" stop-color="#f5f6c6"/><stop offset="0.5" stop-color="#ffffff"/><stop offset="0.56" stop-color="#dbefd2"/><stop offset="0.625" stop-color="#bfe3b5"/><stop offset="0.75" stop-color="#6ec49c"/><stop offset="0.83" stop-color="#72adb2"/><stop offset="0.9" stop-color="#3b79a9"/><stop offset="0.95" stop-color="#2d608a"/><stop offset="1" stop-color="#20435c"/>
</linearGradient>
<linearGradient id="cb2" x1="0" x2="1" y1="0" y2="0">
<stop offset="0" stop-color="#b56a32"/><stop offset="0.25" stop-color="#c98f54"/><stop offset="0.5" stop-color="#e2c183"/><stop offset="0.75" stop-color="#f0e4a9"/><stop offset="0.9" stop-color="#f7f7cc"/><stop offset="1" stop-color="#ffffff"/>
</linearGradient>
<g id="gridg" fill="none" stroke="#3a3a3a" stroke-width="0.85" stroke-dasharray="5.3,3.4"><circle r="30.0"/><circle r="91.9"/><circle r="159.9"/><line x1="0.0" y1="12.5" x2="0.0" y2="198.0"/><line x1="3.2" y1="12.1" x2="51.2" y2="191.3"/><line x1="6.2" y1="10.8" x2="99.0" y2="171.5"/><line x1="8.8" y1="8.8" x2="140.0" y2="140.0"/><line x1="10.8" y1="6.3" x2="171.5" y2="99.0"/><line x1="12.1" y1="3.2" x2="191.3" y2="51.2"/><line x1="12.5" y1="0.0" x2="198.0" y2="0.0"/><line x1="12.1" y1="-3.2" x2="191.3" y2="-51.2"/><line x1="10.8" y1="-6.2" x2="171.5" y2="-99.0"/><line x1="8.8" y1="-8.8" x2="140.0" y2="-140.0"/><line x1="6.2" y1="-10.8" x2="99.0" y2="-171.5"/><line x1="3.2" y1="-12.1" x2="51.2" y2="-191.3"/><line x1="0.0" y1="-12.5" x2="0.0" y2="-198.0"/><line x1="-3.2" y1="-12.1" x2="-51.2" y2="-191.3"/><line x1="-6.3" y1="-10.8" x2="-99.0" y2="-171.5"/><line x1="-8.8" y1="-8.8" x2="-140.0" y2="-140.0"/><line x1="-10.8" y1="-6.3" x2="-171.5" y2="-99.0"/><line x1="-12.1" y1="-3.2" x2="-191.3" y2="-51.2"/><line x1="-12.5" y1="-0.0" x2="-198.0" y2="-0.0"/><line x1="-12.1" y1="3.2" x2="-191.3" y2="51.2"/><line x1="-10.8" y1="6.3" x2="-171.5" y2="99.0"/><line x1="-8.8" y1="8.8" x2="-140.0" y2="140.0"/><line x1="-6.3" y1="10.8" x2="-99.0" y2="171.5"/><line x1="-3.2" y1="12.1" x2="-51.2" y2="191.3"/></g>
<g id="pole"><path d="M0.00,6.20L0.00,10.60M1.08,6.11L1.84,10.44M2.12,5.83L3.63,9.96M3.10,5.37L5.30,9.18M3.99,4.75L6.81,8.12M4.75,3.99L8.12,6.81M5.37,3.10L9.18,5.30M5.83,2.12L9.96,3.63M6.11,1.08L10.44,1.84M6.20,0.00L10.60,0.00M6.11,-1.08L10.44,-1.84M5.83,-2.12L9.96,-3.63M5.37,-3.10L9.18,-5.30M4.75,-3.99L8.12,-6.81M3.99,-4.75L6.81,-8.12M3.10,-5.37L5.30,-9.18M2.12,-5.83L3.63,-9.96M1.08,-6.11L1.84,-10.44M0.00,-6.20L0.00,-10.60M-1.08,-6.11L-1.84,-10.44M-2.12,-5.83L-3.63,-9.96M-3.10,-5.37L-5.30,-9.18M-3.99,-4.75L-6.81,-8.12M-4.75,-3.99L-8.12,-6.81M-5.37,-3.10L-9.18,-5.30M-5.83,-2.12L-9.96,-3.63M-6.11,-1.08L-10.44,-1.84M-6.20,-0.00L-10.60,-0.00M-6.11,1.08L-10.44,1.84M-5.83,2.12L-9.96,3.63M-5.37,3.10L-9.18,5.30M-4.75,3.99L-8.12,6.81M-3.99,4.75L-6.81,8.12M-3.10,5.37L-5.30,9.18M-2.12,5.83L-3.63,9.96M-1.08,6.11L-1.84,10.44" stroke="#000" stroke-width="0.75" fill="none"/><circle r="4.1" fill="#000"/></g>
</defs>
<rect width="1750" height="2218" fill="#fff"/><g stroke="#111" stroke-width="1.6" fill="none"><rect x="255.6" y="36.4" width="1489.3000000000002" height="570.6"/><line x1="255.6" y1="525.5" x2="271.6" y2="525.5"/><line x1="1744.9" y1="525.5" x2="1728.9" y2="525.5"/><line x1="255.6" y1="444.0" x2="271.6" y2="444.0"/><line x1="1744.9" y1="444.0" x2="1728.9" y2="444.0"/><line x1="255.6" y1="362.5" x2="271.6" y2="362.5"/><line x1="1744.9" y1="362.5" x2="1728.9" y2="362.5"/><line x1="255.6" y1="280.9" x2="271.6" y2="280.9"/><line x1="1744.9" y1="280.9" x2="1728.9" y2="280.9"/><line x1="255.6" y1="199.4" x2="271.6" y2="199.4"/><line x1="1744.9" y1="199.4" x2="1728.9" y2="199.4"/><line x1="255.6" y1="117.9" x2="271.6" y2="117.9"/><line x1="1744.9" y1="117.9" x2="1728.9" y2="117.9"/><line x1="628.2" y1="36.4" x2="628.2" y2="52.4"/><line x1="628.2" y1="607.0" x2="628.2" y2="591.0"/><line x1="1372.4" y1="36.4" x2="1372.4" y2="52.4"/><line x1="1372.4" y1="607.0" x2="1372.4" y2="591.0"/></g><line x1="255.6" y1="199.4" x2="1744.9" y2="199.4" stroke="#222" stroke-width="1.2" stroke-dasharray="9,3,2,3"/><text x="236.6" y="623.5" font-size="44.5" text-anchor="end">-5</text><text x="236.6" y="542.0" font-size="44.5" text-anchor="end">-4</text><text x="236.6" y="460.5" font-size="44.5" text-anchor="end">-3</text><text x="236.6" y="379.0" font-size="44.5" text-anchor="end">-2</text><text x="236.6" y="297.4" font-size="44.5" text-anchor="end">-1</text><text x="236.6" y="215.9" font-size="44.5" text-anchor="end">0</text><text x="236.6" y="134.4" font-size="44.5" text-anchor="end">1</text><text x="236.6" y="52.9" font-size="44.5" text-anchor="end">2</text><path d="M386.5,152.7H497.70000000000005M386.5,271H497.70000000000005M442.1,152.7V271" stroke="#111" stroke-width="1.8" fill="none"/><circle cx="442.1" cy="211.6" r="13" fill="#9acdd6" stroke="#111" stroke-width="1.6"/><path d="M572.6,157.8H683.8000000000001M572.6,264.3H683.8000000000001M628.2,157.8V264.3" stroke="#111" stroke-width="1.8" fill="none"/><circle cx="628.2" cy="210.5" r="13" fill="#d04f63" stroke="#111" stroke-width="1.6"/><path d="M758.9,121.4H870.1M758.9,287.4H870.1M814.5,121.4V287.4" stroke="#111" stroke-width="1.8" fill="none"/><circle cx="814.5" cy="204.4" r="13" fill="#53b0c8" stroke="#111" stroke-width="1.6"/><path d="M1130.9,232.6H1242.1M1130.9,409.8H1242.1M1186.5,232.6V409.8" stroke="#111" stroke-width="1.8" fill="none"/><path d="M1186.5,303.3L1202.5,330.6H1170.5Z" fill="#9acdd6" stroke="#111" stroke-width="1.6" stroke-linejoin="miter"/><path d="M1316.8000000000002,200.3H1428.0M1316.8000000000002,260.8H1428.0M1372.4,200.3V260.8" stroke="#111" stroke-width="1.8" fill="none"/><path d="M1372.4,212.7L1388.4,240.0H1356.4Z" fill="#d04f63" stroke="#111" stroke-width="1.6" stroke-linejoin="miter"/><path d="M1503.3000000000002,186H1614.5M1503.3000000000002,373.5H1614.5M1558.9,186V373.5" stroke="#111" stroke-width="1.8" fill="none"/><path d="M1558.9,261.8L1574.9,289.1H1542.9Z" fill="#53b0c8" stroke="#111" stroke-width="1.6" stroke-linejoin="miter"/><text x="628.2" y="667.4" font-size="44.5" text-anchor="middle">LAI<tspan dy="22" font-size="35.6">MAM</tspan></text><text x="1372.4" y="667.4" font-size="44.5" text-anchor="middle">VPD<tspan dy="22" font-size="35.6">JJA</tspan></text><text x="1286.4" y="598.8" font-size="44.5">10<tspan dy="-22" font-size="35.6">-2</tspan><tspan dy="22">·hPa</tspan></text><text x="1000" y="748.4" font-size="50" font-weight="bold" text-anchor="middle">Influencing factors</text><text transform="translate(80.8,317) rotate(-90)" font-size="48.8" font-weight="bold" text-anchor="middle">SM<tspan dy="25" font-size="39.5">JJA</tspan><tspan dy="-25"> sensitivity</tspan></text><text transform="translate(173.9,324) rotate(-90)" font-size="49.2" font-weight="bold" text-anchor="middle">0.1 m<tspan dy="-25" font-size="40">3</tspan><tspan dy="25">·m</tspan><tspan dy="-25" font-size="40">-3</tspan><tspan dy="25">·unit</tspan><tspan dy="-25" font-size="40">-1</tspan></text><text x="2" y="32" font-size="37">(a)</text><rect x="543.5" y="805.7" width="136.3" height="32.8" fill="#9acdd6" stroke="#111" stroke-width="1.6"/><text x="690.5" y="835.5" font-size="35.5">Method1</text><rect x="857.6" y="805.7" width="136.3" height="32.8" fill="#d04f63" stroke="#111" stroke-width="1.6"/><text x="1004.6" y="835.5" font-size="35.5">Method2</text><rect x="1170.6" y="805.7" width="136.3" height="32.8" fill="#53b0c8" stroke="#111" stroke-width="1.6"/><text x="1317.6" y="835.5" font-size="35.5">Method3</text><g transform="translate(282.5,1144.5)"><g clip-path="url(#disc)"><g clip-path="url(#landclip)"><rect x="-200" y="-200" width="400" height="400" fill="#f0f4da"/><rect x="-200" y="-200" width="400" height="400" filter="url(#mG)" opacity="0.42"/><rect x="-200" y="-200" width="400" height="400" filter="url(#mT)" opacity="0.4"/><g filter="url(#rough)"><path d="M-133.2,-67.1L-108.6,-68.4L-91.4,-63.4L-79.1,-52.4L-84.0,-40.1L-91.4,-35.2L-103.7,-40.1L-115.9,-35.2L-125.8,-40.1L-135.6,-49.9Z" fill="#e6cf98" opacity="0.85"/><path d="M-189.7,-47.5L-171.3,-49.9L-150.4,-45.0L-133.2,-35.2L-128.2,-22.9L-140.5,-18.0L-155.3,-25.3L-171.3,-30.2L-187.3,-35.2Z" fill="#ecd9a6" opacity="0.7"/><path d="M-123.3,6.6L-113.5,18.9L-108.6,37.4L-115.9,49.7L-128.2,43.5L-133.2,25.1Z" fill="#f0e6b8" opacity="0.8"/><path d="M-194.6,-18.0L-171.3,-10.6L-150.4,4.2L-138.1,18.9L-133.2,37.4L-152.8,43.5L-177.4,31.2L-194.6,18.9Z" fill="#d6ecc8" opacity="0.75"/><path d="M-38.5,-88.0L-25.0,-89.3L-21.3,-75.7L-29.9,-67.1L-39.7,-72.1Z" fill="#9fd3b0" opacity="0.85"/><path d="M-72.9,-54.8L-54.5,-57.3L-50.8,-48.7L-66.8,-43.8Z" fill="#bfe2bd" opacity="0.8"/><path d="M-66.8,-73.3L-48.3,-69.6L-42.2,-54.8L-60.6,-57.3Z" fill="#d5ebc8" opacity="0.7"/><path d="M69.2,-18.6L91.4,-25.9L115.9,-21.0L122.1,-2.6L115.9,15.9L103.7,34.3L91.4,46.6L79.1,58.9L61.8,58.9L56.9,40.5L71.7,15.9L69.2,-2.6Z" fill="#e6cf98" opacity="0.9"/><path d="M56.9,-75.1L79.1,-77.6L93.8,-67.7L91.4,-50.5L79.1,-50.5L66.8,-53.0L59.4,-60.4Z" fill="#ecdcaa" opacity="0.8"/><path d="M84.0,-53.0L103.7,-55.5L115.9,-45.6L115.9,-33.3L98.7,-30.9L86.4,-38.2Z" fill="#a9d9b8" opacity="0.7"/><path d="M144.2,-92.3L156.5,-94.8L157.8,-75.1L146.7,-75.1Z" fill="#bfe2bd" opacity="0.7"/><path d="M162.7,-103.4L177.4,-99.7L192.2,-80.0L199.6,-57.9L189.7,-48.1L175.0,-57.9L165.1,-75.1Z" fill="#dfeecd" opacity="0.8"/><path d="M103.7,-107.1L128.2,-109.6L146.7,-103.4L140.5,-91.1L115.9,-89.9L103.7,-94.8Z" fill="#f0ecc4" opacity="0.8"/><path d="M54.1,36.6L72.5,26.7L91.0,36.6L103.3,53.8L100.8,69.8L91.0,82.1L78.7,94.4L63.9,96.8L54.1,89.5L49.2,74.7L54.1,57.5Z" fill="#e6cf98" opacity="0.9"/><path d="M-24.6,148.5L-1.2,152.2L-3.7,168.1L-22.1,170.6Z" fill="#ecd9a0" opacity="0.9"/><path d="M78.7,119.0L103.3,116.5L127.9,125.1L121.7,143.6L91.0,149.7L78.7,141.1Z" fill="#eadba8" opacity="0.8"/><path d="M109.4,24.3L140.2,24.3L146.3,45.2L127.9,59.9L109.4,51.3Z" fill="#bcdcc4" opacity="0.65"/><path d="M103.3,51.3L127.9,59.9L146.3,64.9L140.2,82.1L115.6,75.9L100.8,69.8Z" fill="#e8d5a2" opacity="0.8"/></g><rect x="-200" y="-200" width="400" height="400" filter="url(#mG2)" opacity="0.15"/><g filter="url(#rough)"><path d="M-49.6,-68.4L-38.5,-72.7L-29.9,-79.4L-23.7,-84.3L-19.4,-74.5L-14.9,-64.7L-18.6,-55.8L-27.4,-51.8L-37.3,-48.1L-43.4,-54.8Z" fill="#b8692e" opacity="1.0"/><path d="M-36.6,-48.7L-42.2,-40.1L-47.1,-25.3L-55.7,-15.5L-60.6,-5.7L-74.1,0.5L-86.4,-6.6L-93.8,-8.1L-101.2,-4.2L-107.3,3.2L-115.9,6.9L-122.1,13.0L-123.3,23.9L-116.9,21.6L-108.3,14.3L-103.4,6.9L-97.3,0.7L-92.3,-7.5L-89.9,-18.0L-86.2,-25.3L-78.8,-35.2L-69.0,-45.0L-56.7,-54.2L-46.8,-55.5Z" fill="#b8692e" opacity="1.0"/><path d="M-123.3,23.9L-115.9,18.9L-103.7,22.6L-91.4,18.9L-82.1,17.7L-79.1,26.3L-84.0,33.7L-85.8,42.3L-92.0,54.6L-98.7,66.3L-105.5,62.0L-111.0,54.6L-115.3,44.8L-120.3,35.5Z" fill="#b8692e" opacity="1.0"/><ellipse cx="-71.7" cy="20.2" rx="7.4" ry="8.6" fill="#b8692e" opacity="0.9" transform="rotate(0 -71.7 20.2)"/><path d="M-184.8,-54.8L-177.4,-63.4L-165.1,-67.1L-150.4,-61.0L-138.1,-54.8L-128.2,-46.2L-133.2,-37.6L-144.2,-40.1L-155.3,-46.2L-165.1,-48.7L-177.4,-49.9Z" fill="#c27f42" opacity="0.95"/><ellipse cx="-131.9" cy="-60.4" rx="4.3" ry="3.4" fill="#c27f42" opacity="0.9" transform="rotate(0 -131.9 -60.4)"/><ellipse cx="-115.9" cy="-27.8" rx="6.1" ry="4.3" fill="#d9b078" opacity="0.8" transform="rotate(0 -115.9 -27.8)"/><path d="M1.6,-75.1L9.0,-83.7L17.6,-86.2L25.0,-85.0L33.6,-82.5L42.2,-83.7L50.8,-77.6L57.2,-70.2L54.7,-60.4L52.3,-50.5L46.1,-45.6L42.4,-38.2L34.8,-45.6L28.6,-53.0L22.5,-59.1L17.6,-65.3L10.2,-67.7L4.1,-70.2Z" fill="#b8692e" opacity="1.0"/><path d="M45.9,-35.8L52.0,-40.7L59.4,-48.1L66.8,-53.0L74.1,-50.5L79.3,-41.9L79.3,-30.9L76.8,-23.5L69.2,-19.5L61.8,-20.8L54.5,-19.5L48.3,-22.0L44.6,-28.4Z" fill="#b8692e" opacity="1.0"/><path d="M33.6,-48.1L44.6,-50.5L54.5,-50.5L56.9,-40.7L47.1,-33.3L39.7,-35.8Z" fill="#b8692e" opacity="1.0"/><ellipse cx="79.7" cy="24.7" rx="6.1" ry="7.1" fill="#bd7438" opacity="0.95" transform="rotate(0 79.7 24.7)"/><ellipse cx="39.7" cy="-99.7" rx="2.7" ry="11.1" fill="#cc9050" opacity="0.9" transform="rotate(30 39.7 -99.7)"/><path d="M106.1,-83.7L115.9,-85.0L128.2,-82.5L136.8,-75.1L143.2,-65.3L156.8,-57.9L165.4,-48.1L170.3,-38.2L165.4,-35.5L157.8,-45.4L147.9,-52.7L138.1,-58.9L128.2,-65.0L118.4,-72.4L108.6,-77.3Z" fill="#bd7438" opacity="1.0"/><path d="M128.2,-40.7L134.4,-33.3L137.1,-23.5L134.4,-13.4L128.2,-15.9L127.0,-28.4Z" fill="#c07a3c" opacity="0.95"/><ellipse cx="61.8" cy="40.5" rx="7.4" ry="8.6" fill="#d0995a" opacity="0.8" transform="rotate(0 61.8 40.5)"/><ellipse cx="103.7" cy="1.1" rx="9.8" ry="12.3" fill="#e0c088" opacity="0.6" transform="rotate(0 103.7 1.1)"/><path d="M17.2,59.9L25.8,52.6L32.2,53.8L27.3,62.4L22.4,72.2L17.5,84.5L12.5,94.4L8.6,93.1L9.8,82.1L13.5,69.8Z" fill="#b8692e" opacity="1.0"/><ellipse cx="40.6" cy="55.0" rx="6.1" ry="2.2" fill="#cc9050" opacity="0.9" transform="rotate(0 40.6 55.0)"/><ellipse cx="78.7" cy="23.1" rx="5.9" ry="5.9" fill="#c27f42" opacity="0.9" transform="rotate(0 78.7 23.1)"/><ellipse cx="91.0" cy="57.5" rx="9.8" ry="5.5" fill="#d0995a" opacity="0.8" transform="rotate(20 91.0 57.5)"/><ellipse cx="167.2" cy="73.5" rx="4.9" ry="10.5" fill="#b8692e" opacity="1" transform="rotate(20 167.2 73.5)"/><ellipse cx="98.4" cy="130.0" rx="8.6" ry="2.7" fill="#c98f54" opacity="0.95" transform="rotate(-30 98.4 130.0)"/><ellipse cx="113.1" cy="39.0" rx="7.4" ry="9.8" fill="#d3a66c" opacity="0.6" transform="rotate(0 113.1 39.0)"/></g><g filter="url(#rough2)"><path d="M39.7,-16.1L45.9,-17.3L54.5,-11.2L61.8,-8.7L69.2,-10.0L71.9,-5.0L67.0,3.6L67.0,13.4L68.2,22.0L61.8,24.7L54.5,19.8L48.3,9.7L44.6,1.1L42.2,-8.7Z" fill="#25506e" opacity="1.0"/><ellipse cx="122.1" cy="-45.6" rx="4.7" ry="11.7" fill="#3b7592" opacity="0.9" transform="rotate(-15 122.1 -45.6)"/><ellipse cx="129.5" cy="-10.0" rx="3.7" ry="11.7" fill="#4a8a9a" opacity="0.85" transform="rotate(0 129.5 -10.0)"/><path d="M172.5,-43.2L179.9,-45.6L188.5,-38.2L194.6,-21.0L198.3,1.1L197.1,15.9L192.2,14.6L187.3,-1.4L181.1,-14.9L173.7,-27.2L168.8,-35.8Z" fill="#3f7592" opacity="0.75"/><ellipse cx="115.9" cy="-80.0" rx="6.8" ry="3.7" fill="#4d8390" opacity="0.75" transform="rotate(0 115.9 -80.0)"/><ellipse cx="10.2" cy="-73.9" rx="6.8" ry="4.3" fill="#4d949a" opacity="0.6" transform="rotate(0 10.2 -73.9)"/><ellipse cx="93.8" cy="-57.9" rx="6.1" ry="3.1" fill="#5fae9f" opacity="0.6" transform="rotate(30 93.8 -57.9)"/><ellipse cx="-113.5" cy="-41.3" rx="4.7" ry="5.5" fill="#2f6283" opacity="0.9" transform="rotate(0 -113.5 -41.3)"/><ellipse cx="-149.1" cy="-13.0" rx="7.1" ry="4.9" fill="#2c5a78" opacity="0.9" transform="rotate(0 -149.1 -13.0)"/><ellipse cx="-120.9" cy="-25.3" rx="3.7" ry="4.9" fill="#5a9fa3" opacity="0.7" transform="rotate(0 -120.9 -25.3)"/><ellipse cx="-181.1" cy="-61.0" rx="3.7" ry="6.1" fill="#4d949a" opacity="0.8" transform="rotate(0 -181.1 -61.0)"/><ellipse cx="-187.3" cy="-51.1" rx="2.7" ry="3.7" fill="#4d949a" opacity="0.7" transform="rotate(0 -187.3 -51.1)"/><ellipse cx="-56.9" cy="-19.2" rx="4.7" ry="5.5" fill="#2c5a78" opacity="0.85" transform="rotate(0 -56.9 -19.2)"/><ellipse cx="-68.0" cy="3.0" rx="5.5" ry="4.9" fill="#2c5a78" opacity="0.85" transform="rotate(0 -68.0 3.0)"/><ellipse cx="-61.8" cy="14.0" rx="3.7" ry="3.7" fill="#3b7592" opacity="0.7" transform="rotate(0 -61.8 14.0)"/><ellipse cx="-91.4" cy="28.8" rx="2.7" ry="2.7" fill="#4d949a" opacity="0.6" transform="rotate(0 -91.4 28.8)"/><ellipse cx="100.8" cy="31.8" rx="0.0" ry="0.0" fill="#000" opacity="0" transform="rotate(0 100.8 31.8)"/><ellipse cx="125.4" cy="32.9" rx="13.5" ry="4.7" fill="#3f8096" opacity="0.8" transform="rotate(10 125.4 32.9)"/><ellipse cx="135.3" cy="62.4" rx="3.4" ry="3.4" fill="#25506e" opacity="0.85" transform="rotate(0 135.3 62.4)"/><ellipse cx="25.8" cy="139.9" rx="3.7" ry="1.5" fill="#4d949a" opacity="0.7" transform="rotate(0 25.8 139.9)"/><ellipse cx="78.7" cy="143.6" rx="3.7" ry="3.1" fill="#5a9fa3" opacity="0.6" transform="rotate(0 78.7 143.6)"/></g><g filter="url(#rough2)"><path d="M139.3,-49.3L146.7,-51.8L151.6,-45.6L153.1,-33.3L151.6,-21.0L149.1,-11.2L144.2,-4.8L139.3,-6.3L140.5,-16.1L138.1,-25.9L136.8,-38.2Z" fill="#fff" opacity="1.0"/><path d="M151.6,-21.0L159.0,-25.9L167.6,-21.0L173.7,-8.7L182.3,3.6L188.5,19.5L194.6,22.0L204.5,22.0L204.5,42.9L189.7,40.5L175.0,38.0L165.1,40.5L156.5,47.8L149.1,50.3L146.7,40.5L152.8,30.6L151.6,15.9L147.9,3.6L146.7,-6.3Z" fill="#fff" opacity="1.0"/><path d="M94.7,82.1L103.3,72.2L121.7,74.7L140.2,82.1L150.0,75.9L157.4,82.1L159.8,91.9L179.5,89.5L179.5,143.6L152.5,162.0L127.9,174.3L103.3,180.4L91.0,187.8L78.7,180.4L91.0,168.1L109.4,155.8L117.4,142.3L118.7,126.3L121.7,114.0L127.9,112.8L115.6,110.4L107.0,103.0L95.9,96.8Z" fill="#fff" opacity="1.0"/><path d="M-32.0,195.2L-18.4,186.0L-1.2,179.8L27.1,176.1L36.9,171.8L54.1,180.4L66.4,187.8L91.0,187.8L91.0,206.0L-32.0,206.0Z" fill="#fff" opacity="1.0"/></g><use href="#icep" fill="#fff"/></g><use href="#waterp" fill="#fff"/><use href="#borderp" fill="none" stroke="#111" stroke-width="0.7"/><use href="#landp" fill="none" stroke="#000" stroke-width="1.15" stroke-linejoin="round"/><use href="#waterp" fill="none" stroke="#111" stroke-width="0.8"/><use href="#gridg"/></g><use href="#pole"/><circle r="198.0" fill="none" stroke="#222" stroke-width="1.05"/></g><text x="1.5" y="907" font-size="37">(b)</text><text x="282.5" y="923.0" font-size="33.6" font-weight="bold" text-anchor="middle">δSM<tspan dy="16.5" font-size="26.9">JJA</tspan><tspan dy="-16.5">/δLAI</tspan><tspan dy="16.5" font-size="26.9">MAM</tspan></text><line x1="42.4" y1="1315.2" x2="42.4" y2="1369.2" stroke="#111" stroke-width="1.3"/><text x="45.4" y="1325.7" font-size="21.5">Area fraction</text><rect x="42.4" y="1334.2" width="128.9" height="18" fill="#b56d33"/><rect x="42.4" y="1334.2" width="46.4" height="18" fill="#234e6c"/><rect x="42.4" y="1334.2" width="128.9" height="18" fill="none" stroke="#111" stroke-width="1.4"/><line x1="88.8" y1="1334.2" x2="88.8" y2="1352.2" stroke="#111" stroke-width="1.3"/><text x="66.4" y="1384.7" font-size="21.5" text-anchor="middle">36%</text><text x="130.9" y="1384.7" font-size="21.5" text-anchor="middle">64%</text><path d="M93.4,1414.05L113.9,1394.8H451.1L471.6,1414.05L451.1,1433.3H113.9Z" fill="url(#cb1)" stroke="#111" stroke-width="1.5" stroke-linejoin="miter"/><text x="113.9" y="1469.5" font-size="24.7" text-anchor="middle">-4</text><line x1="198.2" y1="1433.3" x2="198.2" y2="1428.8" stroke="#111" stroke-width="1.2"/><text x="198.2" y="1469.5" font-size="24.7" text-anchor="middle">-2</text><line x1="282.5" y1="1433.3" x2="282.5" y2="1428.8" stroke="#111" stroke-width="1.2"/><text x="282.5" y="1469.5" font-size="24.7" text-anchor="middle">0</text><line x1="366.8" y1="1433.3" x2="366.8" y2="1428.8" stroke="#111" stroke-width="1.2"/><text x="366.8" y="1469.5" font-size="24.7" text-anchor="middle">2</text><text x="451.1" y="1469.5" font-size="24.7" text-anchor="middle">4</text><text x="282.5" y="1512.8" font-size="27" font-weight="bold" text-anchor="middle">10<tspan dy="-13" font-size="21.6">-2</tspan><tspan dy="13"> m</tspan><tspan dy="-13" font-size="21.6">3</tspan><tspan dy="13">·m</tspan><tspan dy="-13" font-size="21.6">-3</tspan></text><g transform="translate(912.5,1144.5)"><g clip-path="url(#disc)"><g clip-path="url(#landclip)"><rect x="-200" y="-200" width="400" height="400" fill="#f0f4da"/><rect x="-200" y="-200" width="400" height="400" filter="url(#mG)" opacity="0.42"/><rect x="-200" y="-200" width="400" height="400" filter="url(#mT)" opacity="0.4"/><g filter="url(#rough)"><path d="M-133.2,-67.1L-108.6,-68.4L-91.4,-63.4L-79.1,-52.4L-84.0,-40.1L-91.4,-35.2L-103.7,-40.1L-115.9,-35.2L-125.8,-40.1L-135.6,-49.9Z" fill="#e6cf98" opacity="0.85"/><path d="M-189.7,-47.5L-171.3,-49.9L-150.4,-45.0L-133.2,-35.2L-128.2,-22.9L-140.5,-18.0L-155.3,-25.3L-171.3,-30.2L-187.3,-35.2Z" fill="#ecd9a6" opacity="0.7"/><path d="M-123.3,6.6L-113.5,18.9L-108.6,37.4L-115.9,49.7L-128.2,43.5L-133.2,25.1Z" fill="#f0e6b8" opacity="0.8"/><path d="M-194.6,-18.0L-171.3,-10.6L-150.4,4.2L-138.1,18.9L-133.2,37.4L-152.8,43.5L-177.4,31.2L-194.6,18.9Z" fill="#d6ecc8" opacity="0.75"/><path d="M-38.5,-88.0L-25.0,-89.3L-21.3,-75.7L-29.9,-67.1L-39.7,-72.1Z" fill="#9fd3b0" opacity="0.85"/><path d="M-72.9,-54.8L-54.5,-57.3L-50.8,-48.7L-66.8,-43.8Z" fill="#bfe2bd" opacity="0.8"/><path d="M-66.8,-73.3L-48.3,-69.6L-42.2,-54.8L-60.6,-57.3Z" fill="#d5ebc8" opacity="0.7"/><path d="M69.2,-18.6L91.4,-25.9L115.9,-21.0L122.1,-2.6L115.9,15.9L103.7,34.3L91.4,46.6L79.1,58.9L61.8,58.9L56.9,40.5L71.7,15.9L69.2,-2.6Z" fill="#e6cf98" opacity="0.9"/><path d="M56.9,-75.1L79.1,-77.6L93.8,-67.7L91.4,-50.5L79.1,-50.5L66.8,-53.0L59.4,-60.4Z" fill="#ecdcaa" opacity="0.8"/><path d="M84.0,-53.0L103.7,-55.5L115.9,-45.6L115.9,-33.3L98.7,-30.9L86.4,-38.2Z" fill="#a9d9b8" opacity="0.7"/><path d="M144.2,-92.3L156.5,-94.8L157.8,-75.1L146.7,-75.1Z" fill="#bfe2bd" opacity="0.7"/><path d="M162.7,-103.4L177.4,-99.7L192.2,-80.0L199.6,-57.9L189.7,-48.1L175.0,-57.9L165.1,-75.1Z" fill="#dfeecd" opacity="0.8"/><path d="M103.7,-107.1L128.2,-109.6L146.7,-103.4L140.5,-91.1L115.9,-89.9L103.7,-94.8Z" fill="#f0ecc4" opacity="0.8"/><path d="M54.1,36.6L72.5,26.7L91.0,36.6L103.3,53.8L100.8,69.8L91.0,82.1L78.7,94.4L63.9,96.8L54.1,89.5L49.2,74.7L54.1,57.5Z" fill="#e6cf98" opacity="0.9"/><path d="M-24.6,148.5L-1.2,152.2L-3.7,168.1L-22.1,170.6Z" fill="#ecd9a0" opacity="0.9"/><path d="M78.7,119.0L103.3,116.5L127.9,125.1L121.7,143.6L91.0,149.7L78.7,141.1Z" fill="#eadba8" opacity="0.8"/><path d="M109.4,24.3L140.2,24.3L146.3,45.2L127.9,59.9L109.4,51.3Z" fill="#bcdcc4" opacity="0.65"/><path d="M103.3,51.3L127.9,59.9L146.3,64.9L140.2,82.1L115.6,75.9L100.8,69.8Z" fill="#e8d5a2" opacity="0.8"/></g><rect x="-200" y="-200" width="400" height="400" filter="url(#mG2)" opacity="0.15"/><g filter="url(#rough)"><path d="M-49.6,-68.4L-38.5,-72.7L-29.9,-79.4L-23.7,-84.3L-19.4,-74.5L-14.9,-64.7L-18.6,-55.8L-27.4,-51.8L-37.3,-48.1L-43.4,-54.8Z" fill="#b8692e" opacity="1.0"/><path d="M-36.6,-48.7L-42.2,-40.1L-47.1,-25.3L-55.7,-15.5L-60.6,-5.7L-74.1,0.5L-86.4,-6.6L-93.8,-8.1L-101.2,-4.2L-107.3,3.2L-115.9,6.9L-122.1,13.0L-123.3,23.9L-116.9,21.6L-108.3,14.3L-103.4,6.9L-97.3,0.7L-92.3,-7.5L-89.9,-18.0L-86.2,-25.3L-78.8,-35.2L-69.0,-45.0L-56.7,-54.2L-46.8,-55.5Z" fill="#b8692e" opacity="1.0"/><path d="M-123.3,23.9L-115.9,18.9L-103.7,22.6L-91.4,18.9L-82.1,17.7L-79.1,26.3L-84.0,33.7L-85.8,42.3L-92.0,54.6L-98.7,66.3L-105.5,62.0L-111.0,54.6L-115.3,44.8L-120.3,35.5Z" fill="#b8692e" opacity="1.0"/><ellipse cx="-71.7" cy="20.2" rx="7.4" ry="8.6" fill="#b8692e" opacity="0.9" transform="rotate(0 -71.7 20.2)"/><path d="M-184.8,-54.8L-177.4,-63.4L-165.1,-67.1L-150.4,-61.0L-138.1,-54.8L-128.2,-46.2L-133.2,-37.6L-144.2,-40.1L-155.3,-46.2L-165.1,-48.7L-177.4,-49.9Z" fill="#c27f42" opacity="0.95"/><ellipse cx="-131.9" cy="-60.4" rx="4.3" ry="3.4" fill="#c27f42" opacity="0.9" transform="rotate(0 -131.9 -60.4)"/><ellipse cx="-115.9" cy="-27.8" rx="6.1" ry="4.3" fill="#d9b078" opacity="0.8" transform="rotate(0 -115.9 -27.8)"/><path d="M1.6,-75.1L9.0,-83.7L17.6,-86.2L25.0,-85.0L33.6,-82.5L42.2,-83.7L50.8,-77.6L57.2,-70.2L54.7,-60.4L52.3,-50.5L46.1,-45.6L42.4,-38.2L34.8,-45.6L28.6,-53.0L22.5,-59.1L17.6,-65.3L10.2,-67.7L4.1,-70.2Z" fill="#b8692e" opacity="1.0"/><path d="M45.9,-35.8L52.0,-40.7L59.4,-48.1L66.8,-53.0L74.1,-50.5L79.3,-41.9L79.3,-30.9L76.8,-23.5L69.2,-19.5L61.8,-20.8L54.5,-19.5L48.3,-22.0L44.6,-28.4Z" fill="#b8692e" opacity="1.0"/><path d="M33.6,-48.1L44.6,-50.5L54.5,-50.5L56.9,-40.7L47.1,-33.3L39.7,-35.8Z" fill="#b8692e" opacity="1.0"/><ellipse cx="79.7" cy="24.7" rx="6.1" ry="7.1" fill="#bd7438" opacity="0.95" transform="rotate(0 79.7 24.7)"/><ellipse cx="39.7" cy="-99.7" rx="2.7" ry="11.1" fill="#cc9050" opacity="0.9" transform="rotate(30 39.7 -99.7)"/><path d="M106.1,-83.7L115.9,-85.0L128.2,-82.5L136.8,-75.1L143.2,-65.3L156.8,-57.9L165.4,-48.1L170.3,-38.2L165.4,-35.5L157.8,-45.4L147.9,-52.7L138.1,-58.9L128.2,-65.0L118.4,-72.4L108.6,-77.3Z" fill="#bd7438" opacity="1.0"/><path d="M128.2,-40.7L134.4,-33.3L137.1,-23.5L134.4,-13.4L128.2,-15.9L127.0,-28.4Z" fill="#c07a3c" opacity="0.95"/><ellipse cx="61.8" cy="40.5" rx="7.4" ry="8.6" fill="#d0995a" opacity="0.8" transform="rotate(0 61.8 40.5)"/><ellipse cx="103.7" cy="1.1" rx="9.8" ry="12.3" fill="#e0c088" opacity="0.6" transform="rotate(0 103.7 1.1)"/><path d="M17.2,59.9L25.8,52.6L32.2,53.8L27.3,62.4L22.4,72.2L17.5,84.5L12.5,94.4L8.6,93.1L9.8,82.1L13.5,69.8Z" fill="#b8692e" opacity="1.0"/><ellipse cx="40.6" cy="55.0" rx="6.1" ry="2.2" fill="#cc9050" opacity="0.9" transform="rotate(0 40.6 55.0)"/><ellipse cx="78.7" cy="23.1" rx="5.9" ry="5.9" fill="#c27f42" opacity="0.9" transform="rotate(0 78.7 23.1)"/><ellipse cx="91.0" cy="57.5" rx="9.8" ry="5.5" fill="#d0995a" opacity="0.8" transform="rotate(20 91.0 57.5)"/><ellipse cx="167.2" cy="73.5" rx="4.9" ry="10.5" fill="#b8692e" opacity="1" transform="rotate(20 167.2 73.5)"/><ellipse cx="98.4" cy="130.0" rx="8.6" ry="2.7" fill="#c98f54" opacity="0.95" transform="rotate(-30 98.4 130.0)"/><ellipse cx="113.1" cy="39.0" rx="7.4" ry="9.8" fill="#d3a66c" opacity="0.6" transform="rotate(0 113.1 39.0)"/></g><g filter="url(#rough2)"><path d="M39.7,-16.1L45.9,-17.3L54.5,-11.2L61.8,-8.7L69.2,-10.0L71.9,-5.0L67.0,3.6L67.0,13.4L68.2,22.0L61.8,24.7L54.5,19.8L48.3,9.7L44.6,1.1L42.2,-8.7Z" fill="#25506e" opacity="1.0"/><ellipse cx="122.1" cy="-45.6" rx="4.7" ry="11.7" fill="#3b7592" opacity="0.9" transform="rotate(-15 122.1 -45.6)"/><ellipse cx="129.5" cy="-10.0" rx="3.7" ry="11.7" fill="#4a8a9a" opacity="0.85" transform="rotate(0 129.5 -10.0)"/><path d="M172.5,-43.2L179.9,-45.6L188.5,-38.2L194.6,-21.0L198.3,1.1L197.1,15.9L192.2,14.6L187.3,-1.4L181.1,-14.9L173.7,-27.2L168.8,-35.8Z" fill="#3f7592" opacity="0.75"/><ellipse cx="115.9" cy="-80.0" rx="6.8" ry="3.7" fill="#4d8390" opacity="0.75" transform="rotate(0 115.9 -80.0)"/><ellipse cx="10.2" cy="-73.9" rx="6.8" ry="4.3" fill="#4d949a" opacity="0.6" transform="rotate(0 10.2 -73.9)"/><ellipse cx="93.8" cy="-57.9" rx="6.1" ry="3.1" fill="#5fae9f" opacity="0.6" transform="rotate(30 93.8 -57.9)"/><ellipse cx="-113.5" cy="-41.3" rx="4.7" ry="5.5" fill="#2f6283" opacity="0.9" transform="rotate(0 -113.5 -41.3)"/><ellipse cx="-149.1" cy="-13.0" rx="7.1" ry="4.9" fill="#2c5a78" opacity="0.9" transform="rotate(0 -149.1 -13.0)"/><ellipse cx="-120.9" cy="-25.3" rx="3.7" ry="4.9" fill="#5a9fa3" opacity="0.7" transform="rotate(0 -120.9 -25.3)"/><ellipse cx="-181.1" cy="-61.0" rx="3.7" ry="6.1" fill="#4d949a" opacity="0.8" transform="rotate(0 -181.1 -61.0)"/><ellipse cx="-187.3" cy="-51.1" rx="2.7" ry="3.7" fill="#4d949a" opacity="0.7" transform="rotate(0 -187.3 -51.1)"/><ellipse cx="-56.9" cy="-19.2" rx="4.7" ry="5.5" fill="#2c5a78" opacity="0.85" transform="rotate(0 -56.9 -19.2)"/><ellipse cx="-68.0" cy="3.0" rx="5.5" ry="4.9" fill="#2c5a78" opacity="0.85" transform="rotate(0 -68.0 3.0)"/><ellipse cx="-61.8" cy="14.0" rx="3.7" ry="3.7" fill="#3b7592" opacity="0.7" transform="rotate(0 -61.8 14.0)"/><ellipse cx="-91.4" cy="28.8" rx="2.7" ry="2.7" fill="#4d949a" opacity="0.6" transform="rotate(0 -91.4 28.8)"/><ellipse cx="100.8" cy="31.8" rx="0.0" ry="0.0" fill="#000" opacity="0" transform="rotate(0 100.8 31.8)"/><ellipse cx="125.4" cy="32.9" rx="13.5" ry="4.7" fill="#3f8096" opacity="0.8" transform="rotate(10 125.4 32.9)"/><ellipse cx="135.3" cy="62.4" rx="3.4" ry="3.4" fill="#25506e" opacity="0.85" transform="rotate(0 135.3 62.4)"/><ellipse cx="25.8" cy="139.9" rx="3.7" ry="1.5" fill="#4d949a" opacity="0.7" transform="rotate(0 25.8 139.9)"/><ellipse cx="78.7" cy="143.6" rx="3.7" ry="3.1" fill="#5a9fa3" opacity="0.6" transform="rotate(0 78.7 143.6)"/></g><g filter="url(#rough2)"><path d="M139.3,-49.3L146.7,-51.8L151.6,-45.6L153.1,-33.3L151.6,-21.0L149.1,-11.2L144.2,-4.8L139.3,-6.3L140.5,-16.1L138.1,-25.9L136.8,-38.2Z" fill="#fff" opacity="1.0"/><path d="M151.6,-21.0L159.0,-25.9L167.6,-21.0L173.7,-8.7L182.3,3.6L188.5,19.5L194.6,22.0L204.5,22.0L204.5,42.9L189.7,40.5L175.0,38.0L165.1,40.5L156.5,47.8L149.1,50.3L146.7,40.5L152.8,30.6L151.6,15.9L147.9,3.6L146.7,-6.3Z" fill="#fff" opacity="1.0"/><path d="M94.7,82.1L103.3,72.2L121.7,74.7L140.2,82.1L150.0,75.9L157.4,82.1L159.8,91.9L179.5,89.5L179.5,143.6L152.5,162.0L127.9,174.3L103.3,180.4L91.0,187.8L78.7,180.4L91.0,168.1L109.4,155.8L117.4,142.3L118.7,126.3L121.7,114.0L127.9,112.8L115.6,110.4L107.0,103.0L95.9,96.8Z" fill="#fff" opacity="1.0"/><path d="M-32.0,195.2L-18.4,186.0L-1.2,179.8L27.1,176.1L36.9,171.8L54.1,180.4L66.4,187.8L91.0,187.8L91.0,206.0L-32.0,206.0Z" fill="#fff" opacity="1.0"/></g><use href="#icep" fill="#fff"/></g><use href="#waterp" fill="#fff"/><use href="#borderp" fill="none" stroke="#111" stroke-width="0.7"/><use href="#landp" fill="none" stroke="#000" stroke-width="1.15" stroke-linejoin="round"/><use href="#waterp" fill="none" stroke="#111" stroke-width="0.8"/><use href="#gridg"/></g><use href="#pole"/><circle r="198.0" fill="none" stroke="#222" stroke-width="1.05"/></g><text x="647.5" y="907" font-size="37">(c)</text><text x="912.5" y="923.0" font-size="33.6" font-weight="bold" text-anchor="middle">δSM<tspan dy="16.5" font-size="26.9">JJA</tspan><tspan dy="-16.5">/δLAI</tspan><tspan dy="16.5" font-size="26.9">MAM</tspan></text><line x1="672.4" y1="1315.2" x2="672.4" y2="1369.2" stroke="#111" stroke-width="1.3"/><text x="675.4" y="1325.7" font-size="21.5">Area fraction</text><rect x="672.4" y="1334.2" width="128.9" height="18" fill="#b56d33"/><rect x="672.4" y="1334.2" width="45.1" height="18" fill="#234e6c"/><rect x="672.4" y="1334.2" width="128.9" height="18" fill="none" stroke="#111" stroke-width="1.4"/><line x1="717.5" y1="1334.2" x2="717.5" y2="1352.2" stroke="#111" stroke-width="1.3"/><text x="695.8" y="1384.7" font-size="21.5" text-anchor="middle">35%</text><text x="760.2" y="1384.7" font-size="21.5" text-anchor="middle">65%</text><path d="M723.4,1414.05L743.9,1394.8H1081.1L1101.6,1414.05L1081.1,1433.3H743.9Z" fill="url(#cb1)" stroke="#111" stroke-width="1.5" stroke-linejoin="miter"/><text x="743.9" y="1469.5" font-size="24.7" text-anchor="middle">-4</text><line x1="828.2" y1="1433.3" x2="828.2" y2="1428.8" stroke="#111" stroke-width="1.2"/><text x="828.2" y="1469.5" font-size="24.7" text-anchor="middle">-2</text><line x1="912.5" y1="1433.3" x2="912.5" y2="1428.8" stroke="#111" stroke-width="1.2"/><text x="912.5" y="1469.5" font-size="24.7" text-anchor="middle">0</text><line x1="996.8" y1="1433.3" x2="996.8" y2="1428.8" stroke="#111" stroke-width="1.2"/><text x="996.8" y="1469.5" font-size="24.7" text-anchor="middle">2</text><text x="1081.1" y="1469.5" font-size="24.7" text-anchor="middle">4</text><text x="912.5" y="1512.8" font-size="27" font-weight="bold" text-anchor="middle">10<tspan dy="-13" font-size="21.6">-2</tspan><tspan dy="13"> m</tspan><tspan dy="-13" font-size="21.6">3</tspan><tspan dy="13">·m</tspan><tspan dy="-13" font-size="21.6">-3</tspan></text><g transform="translate(1534.5,1144.5)"><g clip-path="url(#disc)"><g clip-path="url(#landclip)"><rect x="-200" y="-200" width="400" height="400" fill="#e9efe2"/><g filter="url(#fade)"><rect x="-200" y="-200" width="400" height="400" fill="#f0f4da"/><rect x="-200" y="-200" width="400" height="400" filter="url(#mG)" opacity="0.42"/><rect x="-200" y="-200" width="400" height="400" filter="url(#mT)" opacity="0.4"/><g filter="url(#rough)"><path d="M-133.2,-67.1L-108.6,-68.4L-91.4,-63.4L-79.1,-52.4L-84.0,-40.1L-91.4,-35.2L-103.7,-40.1L-115.9,-35.2L-125.8,-40.1L-135.6,-49.9Z" fill="#e6cf98" opacity="0.85"/><path d="M-189.7,-47.5L-171.3,-49.9L-150.4,-45.0L-133.2,-35.2L-128.2,-22.9L-140.5,-18.0L-155.3,-25.3L-171.3,-30.2L-187.3,-35.2Z" fill="#ecd9a6" opacity="0.7"/><path d="M-123.3,6.6L-113.5,18.9L-108.6,37.4L-115.9,49.7L-128.2,43.5L-133.2,25.1Z" fill="#f0e6b8" opacity="0.8"/><path d="M-194.6,-18.0L-171.3,-10.6L-150.4,4.2L-138.1,18.9L-133.2,37.4L-152.8,43.5L-177.4,31.2L-194.6,18.9Z" fill="#d6ecc8" opacity="0.75"/><path d="M-38.5,-88.0L-25.0,-89.3L-21.3,-75.7L-29.9,-67.1L-39.7,-72.1Z" fill="#9fd3b0" opacity="0.85"/><path d="M-72.9,-54.8L-54.5,-57.3L-50.8,-48.7L-66.8,-43.8Z" fill="#bfe2bd" opacity="0.8"/><path d="M-66.8,-73.3L-48.3,-69.6L-42.2,-54.8L-60.6,-57.3Z" fill="#d5ebc8" opacity="0.7"/><path d="M69.2,-18.6L91.4,-25.9L115.9,-21.0L122.1,-2.6L115.9,15.9L103.7,34.3L91.4,46.6L79.1,58.9L61.8,58.9L56.9,40.5L71.7,15.9L69.2,-2.6Z" fill="#e6cf98" opacity="0.9"/><path d="M56.9,-75.1L79.1,-77.6L93.8,-67.7L91.4,-50.5L79.1,-50.5L66.8,-53.0L59.4,-60.4Z" fill="#ecdcaa" opacity="0.8"/><path d="M84.0,-53.0L103.7,-55.5L115.9,-45.6L115.9,-33.3L98.7,-30.9L86.4,-38.2Z" fill="#a9d9b8" opacity="0.7"/><path d="M144.2,-92.3L156.5,-94.8L157.8,-75.1L146.7,-75.1Z" fill="#bfe2bd" opacity="0.7"/><path d="M162.7,-103.4L177.4,-99.7L192.2,-80.0L199.6,-57.9L189.7,-48.1L175.0,-57.9L165.1,-75.1Z" fill="#dfeecd" opacity="0.8"/><path d="M103.7,-107.1L128.2,-109.6L146.7,-103.4L140.5,-91.1L115.9,-89.9L103.7,-94.8Z" fill="#f0ecc4" opacity="0.8"/><path d="M54.1,36.6L72.5,26.7L91.0,36.6L103.3,53.8L100.8,69.8L91.0,82.1L78.7,94.4L63.9,96.8L54.1,89.5L49.2,74.7L54.1,57.5Z" fill="#e6cf98" opacity="0.9"/><path d="M-24.6,148.5L-1.2,152.2L-3.7,168.1L-22.1,170.6Z" fill="#ecd9a0" opacity="0.9"/><path d="M78.7,119.0L103.3,116.5L127.9,125.1L121.7,143.6L91.0,149.7L78.7,141.1Z" fill="#eadba8" opacity="0.8"/><path d="M109.4,24.3L140.2,24.3L146.3,45.2L127.9,59.9L109.4,51.3Z" fill="#bcdcc4" opacity="0.65"/><path d="M103.3,51.3L127.9,59.9L146.3,64.9L140.2,82.1L115.6,75.9L100.8,69.8Z" fill="#e8d5a2" opacity="0.8"/></g><rect x="-200" y="-200" width="400" height="400" filter="url(#mG2)" opacity="0.15"/><g filter="url(#rough)"><path d="M-49.6,-68.4L-38.5,-72.7L-29.9,-79.4L-23.7,-84.3L-19.4,-74.5L-14.9,-64.7L-18.6,-55.8L-27.4,-51.8L-37.3,-48.1L-43.4,-54.8Z" fill="#b8692e" opacity="1.0"/><path d="M-36.6,-48.7L-42.2,-40.1L-47.1,-25.3L-55.7,-15.5L-60.6,-5.7L-74.1,0.5L-86.4,-6.6L-93.8,-8.1L-101.2,-4.2L-107.3,3.2L-115.9,6.9L-122.1,13.0L-123.3,23.9L-116.9,21.6L-108.3,14.3L-103.4,6.9L-97.3,0.7L-92.3,-7.5L-89.9,-18.0L-86.2,-25.3L-78.8,-35.2L-69.0,-45.0L-56.7,-54.2L-46.8,-55.5Z" fill="#b8692e" opacity="1.0"/><path d="M-123.3,23.9L-115.9,18.9L-103.7,22.6L-91.4,18.9L-82.1,17.7L-79.1,26.3L-84.0,33.7L-85.8,42.3L-92.0,54.6L-98.7,66.3L-105.5,62.0L-111.0,54.6L-115.3,44.8L-120.3,35.5Z" fill="#b8692e" opacity="1.0"/><ellipse cx="-71.7" cy="20.2" rx="7.4" ry="8.6" fill="#b8692e" opacity="0.9" transform="rotate(0 -71.7 20.2)"/><path d="M-184.8,-54.8L-177.4,-63.4L-165.1,-67.1L-150.4,-61.0L-138.1,-54.8L-128.2,-46.2L-133.2,-37.6L-144.2,-40.1L-155.3,-46.2L-165.1,-48.7L-177.4,-49.9Z" fill="#c27f42" opacity="0.95"/><ellipse cx="-131.9" cy="-60.4" rx="4.3" ry="3.4" fill="#c27f42" opacity="0.9" transform="rotate(0 -131.9 -60.4)"/><ellipse cx="-115.9" cy="-27.8" rx="6.1" ry="4.3" fill="#d9b078" opacity="0.8" transform="rotate(0 -115.9 -27.8)"/><path d="M1.6,-75.1L9.0,-83.7L17.6,-86.2L25.0,-85.0L33.6,-82.5L42.2,-83.7L50.8,-77.6L57.2,-70.2L54.7,-60.4L52.3,-50.5L46.1,-45.6L42.4,-38.2L34.8,-45.6L28.6,-53.0L22.5,-59.1L17.6,-65.3L10.2,-67.7L4.1,-70.2Z" fill="#b8692e" opacity="1.0"/><path d="M45.9,-35.8L52.0,-40.7L59.4,-48.1L66.8,-53.0L74.1,-50.5L79.3,-41.9L79.3,-30.9L76.8,-23.5L69.2,-19.5L61.8,-20.8L54.5,-19.5L48.3,-22.0L44.6,-28.4Z" fill="#b8692e" opacity="1.0"/><path d="M33.6,-48.1L44.6,-50.5L54.5,-50.5L56.9,-40.7L47.1,-33.3L39.7,-35.8Z" fill="#b8692e" opacity="1.0"/><ellipse cx="79.7" cy="24.7" rx="6.1" ry="7.1" fill="#bd7438" opacity="0.95" transform="rotate(0 79.7 24.7)"/><ellipse cx="39.7" cy="-99.7" rx="2.7" ry="11.1" fill="#cc9050" opacity="0.9" transform="rotate(30 39.7 -99.7)"/><path d="M106.1,-83.7L115.9,-85.0L128.2,-82.5L136.8,-75.1L143.2,-65.3L156.8,-57.9L165.4,-48.1L170.3,-38.2L165.4,-35.5L157.8,-45.4L147.9,-52.7L138.1,-58.9L128.2,-65.0L118.4,-72.4L108.6,-77.3Z" fill="#bd7438" opacity="1.0"/><path d="M128.2,-40.7L134.4,-33.3L137.1,-23.5L134.4,-13.4L128.2,-15.9L127.0,-28.4Z" fill="#c07a3c" opacity="0.95"/><ellipse cx="61.8" cy="40.5" rx="7.4" ry="8.6" fill="#d0995a" opacity="0.8" transform="rotate(0 61.8 40.5)"/><ellipse cx="103.7" cy="1.1" rx="9.8" ry="12.3" fill="#e0c088" opacity="0.6" transform="rotate(0 103.7 1.1)"/><path d="M17.2,59.9L25.8,52.6L32.2,53.8L27.3,62.4L22.4,72.2L17.5,84.5L12.5,94.4L8.6,93.1L9.8,82.1L13.5,69.8Z" fill="#b8692e" opacity="1.0"/><ellipse cx="40.6" cy="55.0" rx="6.1" ry="2.2" fill="#cc9050" opacity="0.9" transform="rotate(0 40.6 55.0)"/><ellipse cx="78.7" cy="23.1" rx="5.9" ry="5.9" fill="#c27f42" opacity="0.9" transform="rotate(0 78.7 23.1)"/><ellipse cx="91.0" cy="57.5" rx="9.8" ry="5.5" fill="#d0995a" opacity="0.8" transform="rotate(20 91.0 57.5)"/><ellipse cx="167.2" cy="73.5" rx="4.9" ry="10.5" fill="#b8692e" opacity="1" transform="rotate(20 167.2 73.5)"/><ellipse cx="98.4" cy="130.0" rx="8.6" ry="2.7" fill="#c98f54" opacity="0.95" transform="rotate(-30 98.4 130.0)"/><ellipse cx="113.1" cy="39.0" rx="7.4" ry="9.8" fill="#d3a66c" opacity="0.6" transform="rotate(0 113.1 39.0)"/></g><g filter="url(#rough2)"><path d="M39.7,-16.1L45.9,-17.3L54.5,-11.2L61.8,-8.7L69.2,-10.0L71.9,-5.0L67.0,3.6L67.0,13.4L68.2,22.0L61.8,24.7L54.5,19.8L48.3,9.7L44.6,1.1L42.2,-8.7Z" fill="#25506e" opacity="1.0"/><ellipse cx="122.1" cy="-45.6" rx="4.7" ry="11.7" fill="#3b7592" opacity="0.9" transform="rotate(-15 122.1 -45.6)"/><ellipse cx="129.5" cy="-10.0" rx="3.7" ry="11.7" fill="#4a8a9a" opacity="0.85" transform="rotate(0 129.5 -10.0)"/><path d="M172.5,-43.2L179.9,-45.6L188.5,-38.2L194.6,-21.0L198.3,1.1L197.1,15.9L192.2,14.6L187.3,-1.4L181.1,-14.9L173.7,-27.2L168.8,-35.8Z" fill="#3f7592" opacity="0.75"/><ellipse cx="115.9" cy="-80.0" rx="6.8" ry="3.7" fill="#4d8390" opacity="0.75" transform="rotate(0 115.9 -80.0)"/><ellipse cx="10.2" cy="-73.9" rx="6.8" ry="4.3" fill="#4d949a" opacity="0.6" transform="rotate(0 10.2 -73.9)"/><ellipse cx="93.8" cy="-57.9" rx="6.1" ry="3.1" fill="#5fae9f" opacity="0.6" transform="rotate(30 93.8 -57.9)"/><ellipse cx="-113.5" cy="-41.3" rx="4.7" ry="5.5" fill="#2f6283" opacity="0.9" transform="rotate(0 -113.5 -41.3)"/><ellipse cx="-149.1" cy="-13.0" rx="7.1" ry="4.9" fill="#2c5a78" opacity="0.9" transform="rotate(0 -149.1 -13.0)"/><ellipse cx="-120.9" cy="-25.3" rx="3.7" ry="4.9" fill="#5a9fa3" opacity="0.7" transform="rotate(0 -120.9 -25.3)"/><ellipse cx="-181.1" cy="-61.0" rx="3.7" ry="6.1" fill="#4d949a" opacity="0.8" transform="rotate(0 -181.1 -61.0)"/><ellipse cx="-187.3" cy="-51.1" rx="2.7" ry="3.7" fill="#4d949a" opacity="0.7" transform="rotate(0 -187.3 -51.1)"/><ellipse cx="-56.9" cy="-19.2" rx="4.7" ry="5.5" fill="#2c5a78" opacity="0.85" transform="rotate(0 -56.9 -19.2)"/><ellipse cx="-68.0" cy="3.0" rx="5.5" ry="4.9" fill="#2c5a78" opacity="0.85" transform="rotate(0 -68.0 3.0)"/><ellipse cx="-61.8" cy="14.0" rx="3.7" ry="3.7" fill="#3b7592" opacity="0.7" transform="rotate(0 -61.8 14.0)"/><ellipse cx="-91.4" cy="28.8" rx="2.7" ry="2.7" fill="#4d949a" opacity="0.6" transform="rotate(0 -91.4 28.8)"/><ellipse cx="100.8" cy="31.8" rx="0.0" ry="0.0" fill="#000" opacity="0" transform="rotate(0 100.8 31.8)"/><ellipse cx="125.4" cy="32.9" rx="13.5" ry="4.7" fill="#3f8096" opacity="0.8" transform="rotate(10 125.4 32.9)"/><ellipse cx="135.3" cy="62.4" rx="3.4" ry="3.4" fill="#25506e" opacity="0.85" transform="rotate(0 135.3 62.4)"/><ellipse cx="25.8" cy="139.9" rx="3.7" ry="1.5" fill="#4d949a" opacity="0.7" transform="rotate(0 25.8 139.9)"/><ellipse cx="78.7" cy="143.6" rx="3.7" ry="3.1" fill="#5a9fa3" opacity="0.6" transform="rotate(0 78.7 143.6)"/></g></g><rect x="-200" y="-200" width="400" height="400" filter="url(#mfine)" opacity="0.3"/><g filter="url(#rough2)"><path d="M139.3,-49.3L146.7,-51.8L151.6,-45.6L153.1,-33.3L151.6,-21.0L149.1,-11.2L144.2,-4.8L139.3,-6.3L140.5,-16.1L138.1,-25.9L136.8,-38.2Z" fill="#fff" opacity="1.0"/><path d="M151.6,-21.0L159.0,-25.9L167.6,-21.0L173.7,-8.7L182.3,3.6L188.5,19.5L194.6,22.0L204.5,22.0L204.5,42.9L189.7,40.5L175.0,38.0L165.1,40.5L156.5,47.8L149.1,50.3L146.7,40.5L152.8,30.6L151.6,15.9L147.9,3.6L146.7,-6.3Z" fill="#fff" opacity="1.0"/><path d="M94.7,82.1L103.3,72.2L121.7,74.7L140.2,82.1L150.0,75.9L157.4,82.1L159.8,91.9L179.5,89.5L179.5,143.6L152.5,162.0L127.9,174.3L103.3,180.4L91.0,187.8L78.7,180.4L91.0,168.1L109.4,155.8L117.4,142.3L118.7,126.3L121.7,114.0L127.9,112.8L115.6,110.4L107.0,103.0L95.9,96.8Z" fill="#fff" opacity="1.0"/><path d="M-32.0,195.2L-18.4,186.0L-1.2,179.8L27.1,176.1L36.9,171.8L54.1,180.4L66.4,187.8L91.0,187.8L91.0,206.0L-32.0,206.0Z" fill="#fff" opacity="1.0"/></g><use href="#icep" fill="#fff"/></g><use href="#waterp" fill="#fff"/><use href="#borderp" fill="none" stroke="#111" stroke-width="0.7"/><use href="#landp" fill="none" stroke="#000" stroke-width="1.15" stroke-linejoin="round"/><use href="#waterp" fill="none" stroke="#111" stroke-width="0.8"/><use href="#gridg"/></g><use href="#pole"/><circle r="198.0" fill="none" stroke="#222" stroke-width="1.05"/></g><text x="1292.5" y="907" font-size="37">(d)</text><text x="1534.5" y="923.0" font-size="33.6" font-weight="bold" text-anchor="middle">δSM<tspan dy="16.5" font-size="26.9">JJA</tspan><tspan dy="-16.5">/δLAI</tspan><tspan dy="16.5" font-size="26.9">MAM</tspan></text><line x1="1294.4" y1="1315.2" x2="1294.4" y2="1369.2" stroke="#111" stroke-width="1.3"/><text x="1297.4" y="1325.7" font-size="21.5">Area fraction</text><rect x="1294.4" y="1334.2" width="128.9" height="18" fill="#b56d33"/><rect x="1294.4" y="1334.2" width="60.6" height="18" fill="#234e6c"/><rect x="1294.4" y="1334.2" width="128.9" height="18" fill="none" stroke="#111" stroke-width="1.4"/><line x1="1355.0" y1="1334.2" x2="1355.0" y2="1352.2" stroke="#111" stroke-width="1.3"/><text x="1325.5" y="1384.7" font-size="21.5" text-anchor="middle">47%</text><text x="1389.9" y="1384.7" font-size="21.5" text-anchor="middle">53%</text><path d="M1345.4,1414.05L1365.9,1394.8H1703.1L1723.6,1414.05L1703.1,1433.3H1365.9Z" fill="url(#cb1)" stroke="#111" stroke-width="1.5" stroke-linejoin="miter"/><text x="1365.9" y="1469.5" font-size="24.7" text-anchor="middle">-4</text><line x1="1450.2" y1="1433.3" x2="1450.2" y2="1428.8" stroke="#111" stroke-width="1.2"/><text x="1450.2" y="1469.5" font-size="24.7" text-anchor="middle">-2</text><line x1="1534.5" y1="1433.3" x2="1534.5" y2="1428.8" stroke="#111" stroke-width="1.2"/><text x="1534.5" y="1469.5" font-size="24.7" text-anchor="middle">0</text><line x1="1618.8" y1="1433.3" x2="1618.8" y2="1428.8" stroke="#111" stroke-width="1.2"/><text x="1618.8" y="1469.5" font-size="24.7" text-anchor="middle">2</text><text x="1703.1" y="1469.5" font-size="24.7" text-anchor="middle">4</text><text x="1534.5" y="1512.8" font-size="27" font-weight="bold" text-anchor="middle">10<tspan dy="-13" font-size="21.6">-2</tspan><tspan dy="13"> m</tspan><tspan dy="-13" font-size="21.6">3</tspan><tspan dy="13">·m</tspan><tspan dy="-13" font-size="21.6">-3</tspan></text><g transform="translate(282.5,1843.5)"><g clip-path="url(#disc)"><g clip-path="url(#landclip)"><rect x="-200" y="-200" width="400" height="400" fill="#b5682d"/><g filter="url(#rough)"><path d="M-196.2,31.2L-193.4,-41.8L-187.7,-70.4L-177.6,-87.6L-159.0,-89.0L-134.7,-89.8L-121.8,-81.9L-109.6,-70.4L-115.4,-56.1L-121.1,-38.9L-125.4,-20.3L-139.0,-21.8L-150.4,-18.9L-157.6,-10.3L-159.0,5.4L-164.8,19.8L-179.1,29.8Z" fill="#e0b676" opacity="1.0"/><path d="M-193.4,-21.8L-192.0,-44.7L-187.7,-70.4L-177.6,-87.6L-159.0,-89.0L-134.7,-89.8L-121.8,-81.9L-110.4,-70.4L-116.1,-56.1L-121.8,-38.9L-126.8,-21.8L-140.4,-24.6L-154.7,-21.8L-166.2,-13.2L-180.5,-10.3Z" fill="#f5ecb5" opacity="1.0"/><path d="M-190.5,-38.9L-186.2,-66.1L-173.3,-80.4L-154.7,-70.4L-159.0,-49.0L-173.3,-33.2Z" fill="#fbf7d8" opacity="0.8"/><path d="M-166.2,-59.0L-141.9,-66.1L-116.1,-56.1L-121.8,-46.1L-144.7,-50.4L-161.9,-46.1Z" fill="#e0b676" opacity="0.75"/><path d="M116.8,-69.0L126.8,-63.3L131.1,-51.8L126.8,-34.6L129.7,-17.5L126.8,-0.3L112.5,16.9L103.9,35.5L101.1,54.1L92.5,71.3L78.2,82.7L65.3,91.3L73.9,105.6L83.9,112.8L78.2,128.5L72.4,144.3L98.2,166.5L209.8,42.7L198.4,-0.3L162.6,-51.8L141.1,-69.0Z" fill="#f5ecb5" opacity="1.0"/><path d="M135.4,-54.7L152.6,-51.8L158.3,-28.9L155.5,-0.3L198.4,-0.3L198.4,42.7L184.1,85.6L155.5,128.5L126.8,157.2L106.8,142.9L126.8,114.2L141.1,79.9L135.4,57.0L141.1,28.3L135.4,-0.3L132.6,-28.9Z" fill="#fbf7d8" opacity="1.0"/><path d="M65.3,91.3L78.2,88.5L86.7,99.9L83.9,112.8L72.4,108.5Z" fill="#e0b676" opacity="0.9"/><ellipse cx="112.5" cy="115.7" rx="21.5" ry="3.1" fill="#cf9657" opacity="0.95" transform="rotate(-28 112.5 115.7)"/><ellipse cx="141.1" cy="99.9" rx="12.9" ry="2.0" fill="#cf9657" opacity="0.9" transform="rotate(-20 141.1 99.9)"/><ellipse cx="169.8" cy="59.8" rx="4.3" ry="15.7" fill="#e0b676" opacity="0.9" transform="rotate(25 169.8 59.8)"/><ellipse cx="148.3" cy="16.9" rx="3.1" ry="12.9" fill="#cf9657" opacity="0.85" transform="rotate(20 148.3 16.9)"/><ellipse cx="124.0" cy="8.3" rx="5.7" ry="8.6" fill="#e0b676" opacity="0.8" transform="rotate(0 124.0 8.3)"/><ellipse cx="166.9" cy="-14.6" rx="8.6" ry="15.7" fill="#e0b676" opacity="0.85" transform="rotate(10 166.9 -14.6)"/><ellipse cx="86.7" cy="135.7" rx="12.9" ry="7.2" fill="#e0b676" opacity="0.7" transform="rotate(0 86.7 135.7)"/><path d="M142.6,-83.3L155.5,-76.2L166.9,-63.3L174.1,-43.2L178.4,-20.3L188.4,-0.3L209.8,-0.3L209.8,-100.5L162.6,-100.5Z" fill="#b5682d" opacity="1.0"/><ellipse cx="142.6" cy="-63.3" rx="12.9" ry="5.0" fill="#f5ecb5" opacity="0.9" transform="rotate(35 142.6 -63.3)"/><path d="M-24.5,148.6L1.3,151.4L1.3,174.3L-25.9,171.5Z" fill="#e0b676" opacity="1.0"/><path d="M-25.9,158.6L1.3,162.9L1.3,174.3L-25.9,171.5Z" fill="#f5ecb5" opacity="1.0"/><path d="M-44.5,201.5L-23.0,175.8L8.0,171.5L55.7,167.2L127.3,158.6L127.3,215.9L-44.5,215.9Z" fill="#fbf7d8" opacity="1.0"/></g><rect x="-200" y="-200" width="400" height="400" filter="url(#mWs)" opacity="0.8"/><g filter="url(#rough2)"><path d="M139.3,-49.3L146.7,-51.8L151.6,-45.6L153.1,-33.3L151.6,-21.0L149.1,-11.2L144.2,-4.8L139.3,-6.3L140.5,-16.1L138.1,-25.9L136.8,-38.2Z" fill="#fff" opacity="1.0"/><path d="M151.6,-21.0L159.0,-25.9L167.6,-21.0L173.7,-8.7L182.3,3.6L188.5,19.5L194.6,22.0L204.5,22.0L204.5,42.9L189.7,40.5L175.0,38.0L165.1,40.5L156.5,47.8L149.1,50.3L146.7,40.5L152.8,30.6L151.6,15.9L147.9,3.6L146.7,-6.3Z" fill="#fff" opacity="1.0"/><path d="M94.7,82.1L103.3,72.2L121.7,74.7L140.2,82.1L150.0,75.9L157.4,82.1L159.8,91.9L179.5,89.5L179.5,143.6L152.5,162.0L127.9,174.3L103.3,180.4L91.0,187.8L78.7,180.4L91.0,168.1L109.4,155.8L117.4,142.3L118.7,126.3L121.7,114.0L127.9,112.8L115.6,110.4L107.0,103.0L95.9,96.8Z" fill="#fff" opacity="1.0"/><path d="M-32.0,195.2L-18.4,186.0L-1.2,179.8L27.1,176.1L36.9,171.8L54.1,180.4L66.4,187.8L91.0,187.8L91.0,206.0L-32.0,206.0Z" fill="#fff" opacity="1.0"/></g><use href="#icep" fill="#fff"/></g><use href="#waterp" fill="#fff"/><use href="#borderp" fill="none" stroke="#111" stroke-width="0.7"/><use href="#landp" fill="none" stroke="#000" stroke-width="1.15" stroke-linejoin="round"/><use href="#waterp" fill="none" stroke="#111" stroke-width="0.8"/><use href="#gridg"/></g><use href="#pole"/><circle r="198.0" fill="none" stroke="#222" stroke-width="1.05"/></g><text x="1.5" y="1598" font-size="37">(e)</text><text x="282.5" y="1622.0" font-size="33.6" font-weight="bold" text-anchor="middle">δSM<tspan dy="16.5" font-size="26.9">JJA</tspan><tspan dy="-16.5">/δVPD</tspan><tspan dy="16.5" font-size="26.9">JJA</tspan></text><line x1="42.4" y1="2014.2" x2="42.4" y2="2068.2" stroke="#111" stroke-width="1.3"/><text x="45.4" y="2024.7" font-size="21.5">Area fraction</text><rect x="42.4" y="2033.2" width="128.9" height="18" fill="#b56d33"/><rect x="42.4" y="2033.2" width="1.3" height="18" fill="#234e6c"/><rect x="42.4" y="2033.2" width="128.9" height="18" fill="none" stroke="#111" stroke-width="1.4"/><text x="43.8" y="2083.7" font-size="21.5" text-anchor="middle">1%</text><text x="108.3" y="2083.7" font-size="21.5" text-anchor="middle">99%</text><path d="M93.4,2113.05L113.9,2093.8H451.1L471.6,2113.05L451.1,2132.3H113.9Z" fill="url(#cb2)" stroke="#111" stroke-width="1.5" stroke-linejoin="miter"/><text x="113.9" y="2168.5" font-size="24.7" text-anchor="middle">-1</text><line x1="282.5" y1="2132.3" x2="282.5" y2="2127.8" stroke="#111" stroke-width="1.2"/><text x="282.5" y="2168.5" font-size="24.7" text-anchor="middle">-0.5</text><text x="451.1" y="2168.5" font-size="24.7" text-anchor="middle">0</text><text x="282.5" y="2211.8" font-size="27" font-weight="bold" text-anchor="middle">10<tspan dy="-13" font-size="21.6">-2</tspan><tspan dy="13"> m</tspan><tspan dy="-13" font-size="21.6">3</tspan><tspan dy="13">·m</tspan><tspan dy="-13" font-size="21.6">-3</tspan><tspan dy="13">/hPa</tspan></text><g transform="translate(912.5,1843.5)"><g clip-path="url(#disc)"><g clip-path="url(#landclip)"><rect x="-200" y="-200" width="400" height="400" fill="#f8f2c6"/><g filter="url(#rough)"><path d="M-123.4,-68.4L-84.1,-68.4L-54.6,-78.2L-39.8,-75.7L-39.8,-56.1L-49.7,-36.4L-54.6,-16.7L-64.4,-2.0L-64.4,22.6L-79.2,32.5L-84.1,47.2L-103.8,64.4L-130.8,54.6L-138.2,22.6L-130.8,-2.0L-133.3,-26.6Z" fill="#e0b574" opacity="0.95"/><path d="M-84.1,-26.6L-44.8,-36.4L-34.9,-16.7L-49.7,7.9L-74.3,32.5L-84.1,7.9Z" fill="#e0b574" opacity="0.9"/><path d="M-54.6,-75.7L-39.8,-100.3L-20.2,-90.5L-15.2,-65.9L-30.0,-51.1L-42.3,-56.1Z" fill="#c48245" opacity="1.0"/><ellipse cx="-34.9" cy="-85.6" rx="8.6" ry="9.8" fill="#e0b574" opacity="0.7" transform="rotate(0 -34.9 -85.6)"/><ellipse cx="-101.3" cy="39.8" rx="11.8" ry="13.5" fill="#c48245" opacity="0.95" transform="rotate(0 -101.3 39.8)"/><ellipse cx="-101.3" cy="-46.2" rx="13.5" ry="7.9" fill="#cf9657" opacity="0.85" transform="rotate(0 -101.3 -46.2)"/><ellipse cx="-64.4" cy="-33.9" rx="10.3" ry="13.5" fill="#cf9657" opacity="0.85" transform="rotate(0 -64.4 -33.9)"/><ellipse cx="-128.4" cy="62.0" rx="6.1" ry="3.7" fill="#c07a3c" opacity="0.9" transform="rotate(0 -128.4 62.0)"/><ellipse cx="-74.3" cy="-56.1" rx="9.8" ry="7.4" fill="#d3a060" opacity="0.8" transform="rotate(0 -74.3 -56.1)"/><path d="M-162.8,-16.7L-130.8,-21.6L-128.4,7.9L-138.2,32.5L-162.8,32.5Z" fill="#f0dca0" opacity="0.8"/><path d="M-0.5,-85.6L24.1,-97.9L58.5,-95.4L65.9,-75.7L58.5,-56.1L46.2,-41.3L33.9,-51.1L16.7,-65.9L2.0,-68.4Z" fill="#c07a3c" opacity="1.0"/><path d="M33.9,-51.1L58.5,-65.9L90.5,-80.7L117.5,-65.9L120.0,-16.7L100.3,20.2L73.3,57.0L53.6,76.7L48.7,47.2L51.1,20.2L46.2,-16.7Z" fill="#e0b574" opacity="0.92"/><path d="M51.1,20.2L83.1,15.2L100.3,32.5L95.4,69.3L70.8,89.0L51.1,76.7Z" fill="#ecd08e" opacity="0.9"/><path d="M43.8,-16.7L58.5,-19.2L63.4,3.0L53.6,7.9L46.2,-2.0Z" fill="#be7638" opacity="1.0"/><ellipse cx="58.5" cy="20.2" rx="6.1" ry="9.8" fill="#d3a060" opacity="0.9" transform="rotate(0 58.5 20.2)"/><ellipse cx="90.5" cy="-100.3" rx="19.7" ry="11.1" fill="#e0b574" opacity="0.95" transform="rotate(-30 90.5 -100.3)"/><ellipse cx="120.0" cy="-90.5" rx="19.7" ry="9.8" fill="#d9a868" opacity="0.9" transform="rotate(20 120.0 -90.5)"/><ellipse cx="37.6" cy="-102.8" rx="5.4" ry="13.5" fill="#c48245" opacity="1" transform="rotate(25 37.6 -102.8)"/><ellipse cx="80.7" cy="-110.2" rx="3.0" ry="12.3" fill="#cf9657" opacity="0.9" transform="rotate(35 80.7 -110.2)"/><path d="M97.9,-132.3L122.5,-137.2L147.0,-127.4L142.1,-115.1L117.5,-120.0L100.3,-120.0Z" fill="#ddb070" opacity="0.9"/><path d="M152.0,-97.9L171.6,-95.4L201.1,-75.7L201.1,7.9L186.4,7.9L176.6,-26.6L166.7,-56.1L152.0,-75.7Z" fill="#e6c384" opacity="0.9"/><ellipse cx="180.2" cy="-36.4" rx="9.8" ry="20.9" fill="#cc8e4e" opacity="0.9" transform="rotate(0 180.2 -36.4)"/><ellipse cx="186.4" cy="-83.1" rx="11.1" ry="13.5" fill="#d9a868" opacity="0.85" transform="rotate(0 186.4 -83.1)"/><path d="M31.5,52.1L46.2,54.6L33.9,81.6L19.2,101.3L9.3,93.9L16.7,69.3Z" fill="#e0b574" opacity="0.95"/><path d="M24.1,50.9L33.9,44.8L24.1,64.4L14.3,84.1L9.3,81.6L15.5,62.0Z" fill="#c8894a" opacity="0.9"/><path d="M-17.7,101.3L-0.5,98.9L4.4,116.1L-7.9,125.9L-20.2,116.1Z" fill="#c48245" opacity="1.0"/><ellipse cx="-12.8" cy="146.8" rx="12.3" ry="2.0" fill="#c8894a" opacity="0.9" transform="rotate(5 -12.8 146.8)"/><ellipse cx="105.2" cy="128.4" rx="14.8" ry="2.2" fill="#c98a4a" opacity="0.9" transform="rotate(-35 105.2 128.4)"/><path d="M-197.2,-75.7L-138.2,-85.6L-130.8,-41.3L-162.8,-16.7L-197.2,-16.7Z" fill="#fcf9e0" opacity="0.9"/><path d="M117.5,-53.6L149.5,-56.1L152.0,7.9L132.3,32.5L117.5,7.9Z" fill="#fdfbea" opacity="0.9"/></g><rect x="-200" y="-200" width="400" height="400" filter="url(#mW2)" opacity="0.4"/><g filter="url(#rough2)"><path d="M139.3,-49.3L146.7,-51.8L151.6,-45.6L153.1,-33.3L151.6,-21.0L149.1,-11.2L144.2,-4.8L139.3,-6.3L140.5,-16.1L138.1,-25.9L136.8,-38.2Z" fill="#fff" opacity="1.0"/><path d="M151.6,-21.0L159.0,-25.9L167.6,-21.0L173.7,-8.7L182.3,3.6L188.5,19.5L194.6,22.0L204.5,22.0L204.5,42.9L189.7,40.5L175.0,38.0L165.1,40.5L156.5,47.8L149.1,50.3L146.7,40.5L152.8,30.6L151.6,15.9L147.9,3.6L146.7,-6.3Z" fill="#fff" opacity="1.0"/><path d="M94.7,82.1L103.3,72.2L121.7,74.7L140.2,82.1L150.0,75.9L157.4,82.1L159.8,91.9L179.5,89.5L179.5,143.6L152.5,162.0L127.9,174.3L103.3,180.4L91.0,187.8L78.7,180.4L91.0,168.1L109.4,155.8L117.4,142.3L118.7,126.3L121.7,114.0L127.9,112.8L115.6,110.4L107.0,103.0L95.9,96.8Z" fill="#fff" opacity="1.0"/><path d="M-32.0,195.2L-18.4,186.0L-1.2,179.8L27.1,176.1L36.9,171.8L54.1,180.4L66.4,187.8L91.0,187.8L91.0,206.0L-32.0,206.0Z" fill="#fff" opacity="1.0"/></g><use href="#icep" fill="#fff"/></g><use href="#waterp" fill="#fff"/><use href="#borderp" fill="none" stroke="#111" stroke-width="0.7"/><use href="#landp" fill="none" stroke="#000" stroke-width="1.15" stroke-linejoin="round"/><use href="#waterp" fill="none" stroke="#111" stroke-width="0.8"/><use href="#gridg"/></g><use href="#pole"/><circle r="198.0" fill="none" stroke="#222" stroke-width="1.05"/></g><text x="647.5" y="1598" font-size="37">(f)</text><text x="912.5" y="1622.0" font-size="33.6" font-weight="bold" text-anchor="middle">δSM<tspan dy="16.5" font-size="26.9">JJA</tspan><tspan dy="-16.5">/δVPD</tspan><tspan dy="16.5" font-size="26.9">JJA</tspan></text><line x1="672.4" y1="2014.2" x2="672.4" y2="2068.2" stroke="#111" stroke-width="1.3"/><text x="675.4" y="2024.7" font-size="21.5">Area fraction</text><rect x="672.4" y="2033.2" width="128.9" height="18" fill="#b56d33"/><rect x="672.4" y="2033.2" width="5.2" height="18" fill="#234e6c"/><rect x="672.4" y="2033.2" width="128.9" height="18" fill="none" stroke="#111" stroke-width="1.4"/><line x1="677.6" y1="2033.2" x2="677.6" y2="2051.2" stroke="#111" stroke-width="1.3"/><text x="675.8" y="2083.7" font-size="21.5" text-anchor="middle">4%</text><text x="740.2" y="2083.7" font-size="21.5" text-anchor="middle">96%</text><path d="M723.4,2113.05L743.9,2093.8H1081.1L1101.6,2113.05L1081.1,2132.3H743.9Z" fill="url(#cb2)" stroke="#111" stroke-width="1.5" stroke-linejoin="miter"/><text x="743.9" y="2168.5" font-size="24.7" text-anchor="middle">-1</text><line x1="912.5" y1="2132.3" x2="912.5" y2="2127.8" stroke="#111" stroke-width="1.2"/><text x="912.5" y="2168.5" font-size="24.7" text-anchor="middle">-0.5</text><text x="1081.1" y="2168.5" font-size="24.7" text-anchor="middle">0</text><text x="912.5" y="2211.8" font-size="27" font-weight="bold" text-anchor="middle">10<tspan dy="-13" font-size="21.6">-2</tspan><tspan dy="13"> m</tspan><tspan dy="-13" font-size="21.6">3</tspan><tspan dy="13">·m</tspan><tspan dy="-13" font-size="21.6">-3</tspan><tspan dy="13">/hPa</tspan></text><g transform="translate(1534.5,1843.5)"><g clip-path="url(#disc)"><g clip-path="url(#landclip)"><rect x="-200" y="-200" width="400" height="400" fill="#c6935e"/><g filter="url(#rough)"><path d="M-198.7,31.2L-195.8,-41.8L-190.1,-70.4L-180.1,-87.6L-161.5,-89.0L-137.2,-89.8L-124.3,-81.9L-112.1,-70.4L-117.8,-56.1L-123.6,-38.9L-127.9,-20.3L-141.5,-21.8L-152.9,-18.9L-160.1,-10.3L-161.5,5.4L-167.2,19.8L-181.5,29.8Z" fill="#dcbf8e" opacity="1.0"/><path d="M-195.8,-21.8L-194.4,-44.7L-190.1,-70.4L-180.1,-87.6L-161.5,-89.0L-137.2,-89.8L-124.3,-81.9L-112.8,-70.4L-118.5,-56.1L-124.3,-38.9L-129.3,-21.8L-142.9,-24.6L-157.2,-21.8L-168.6,-13.2L-183.0,-10.3Z" fill="#eddcae" opacity="1.0"/><path d="M-193.0,-38.9L-188.7,-66.1L-175.8,-80.4L-157.2,-70.4L-161.5,-49.0L-175.8,-33.2Z" fill="#f3e9c8" opacity="0.8"/><path d="M-168.6,-59.0L-144.3,-66.1L-118.5,-56.1L-124.3,-46.1L-147.2,-50.4L-164.4,-46.1Z" fill="#dcbf8e" opacity="0.75"/><path d="M114.3,-69.0L124.4,-63.3L128.7,-51.8L124.4,-34.6L127.2,-17.5L124.4,-0.3L110.1,16.9L101.5,35.5L98.6,54.1L90.0,71.3L75.7,82.7L62.8,91.3L71.4,105.6L81.4,112.8L75.7,128.5L70.0,144.3L95.7,166.5L207.4,42.7L195.9,-0.3L160.2,-51.8L138.7,-69.0Z" fill="#eddcae" opacity="1.0"/><path d="M133.0,-54.7L150.1,-51.8L155.9,-28.9L153.0,-0.3L195.9,-0.3L195.9,42.7L181.6,85.6L153.0,128.5L124.4,157.2L104.3,142.9L124.4,114.2L138.7,79.9L133.0,57.0L138.7,28.3L133.0,-0.3L130.1,-28.9Z" fill="#f3e9c8" opacity="1.0"/><path d="M62.8,91.3L75.7,88.5L84.3,99.9L81.4,112.8L70.0,108.5Z" fill="#dcbf8e" opacity="0.9"/><ellipse cx="110.1" cy="115.7" rx="21.5" ry="3.1" fill="#cfa672" opacity="0.95" transform="rotate(-28 110.1 115.7)"/><ellipse cx="138.7" cy="99.9" rx="12.9" ry="2.0" fill="#cfa672" opacity="0.9" transform="rotate(-20 138.7 99.9)"/><ellipse cx="167.3" cy="59.8" rx="4.3" ry="15.7" fill="#dcbf8e" opacity="0.9" transform="rotate(25 167.3 59.8)"/><ellipse cx="145.8" cy="16.9" rx="3.1" ry="12.9" fill="#cfa672" opacity="0.85" transform="rotate(20 145.8 16.9)"/><ellipse cx="121.5" cy="8.3" rx="5.7" ry="8.6" fill="#dcbf8e" opacity="0.8" transform="rotate(0 121.5 8.3)"/><ellipse cx="164.4" cy="-14.6" rx="8.6" ry="15.7" fill="#dcbf8e" opacity="0.85" transform="rotate(10 164.4 -14.6)"/><ellipse cx="84.3" cy="135.7" rx="12.9" ry="7.2" fill="#dcbf8e" opacity="0.7" transform="rotate(0 84.3 135.7)"/><path d="M140.1,-83.3L153.0,-76.2L164.4,-63.3L171.6,-43.2L175.9,-20.3L185.9,-0.3L207.4,-0.3L207.4,-100.5L160.2,-100.5Z" fill="#c8996a" opacity="1.0"/><ellipse cx="140.1" cy="-63.3" rx="12.9" ry="5.0" fill="#eddcae" opacity="0.9" transform="rotate(35 140.1 -63.3)"/><path d="M-26.9,148.6L-1.2,151.4L-1.2,174.3L-28.4,171.5Z" fill="#dcbf8e" opacity="1.0"/><path d="M-28.4,158.6L-1.2,162.9L-1.2,174.3L-28.4,171.5Z" fill="#eddcae" opacity="1.0"/><path d="M-47.0,201.5L-25.5,175.8L5.6,171.5L53.2,167.2L124.8,158.6L124.8,215.9L-47.0,215.9Z" fill="#f3e9c8" opacity="1.0"/></g><rect x="-200" y="-200" width="400" height="400" filter="url(#mfine)" opacity="0.55"/><rect x="-200" y="-200" width="400" height="400" filter="url(#mfineB)" opacity="0.35"/><g filter="url(#rough2)"><path d="M139.3,-49.3L146.7,-51.8L151.6,-45.6L153.1,-33.3L151.6,-21.0L149.1,-11.2L144.2,-4.8L139.3,-6.3L140.5,-16.1L138.1,-25.9L136.8,-38.2Z" fill="#fff" opacity="1.0"/><path d="M151.6,-21.0L159.0,-25.9L167.6,-21.0L173.7,-8.7L182.3,3.6L188.5,19.5L194.6,22.0L204.5,22.0L204.5,42.9L189.7,40.5L175.0,38.0L165.1,40.5L156.5,47.8L149.1,50.3L146.7,40.5L152.8,30.6L151.6,15.9L147.9,3.6L146.7,-6.3Z" fill="#fff" opacity="1.0"/><path d="M94.7,82.1L103.3,72.2L121.7,74.7L140.2,82.1L150.0,75.9L157.4,82.1L159.8,91.9L179.5,89.5L179.5,143.6L152.5,162.0L127.9,174.3L103.3,180.4L91.0,187.8L78.7,180.4L91.0,168.1L109.4,155.8L117.4,142.3L118.7,126.3L121.7,114.0L127.9,112.8L115.6,110.4L107.0,103.0L95.9,96.8Z" fill="#fff" opacity="1.0"/><path d="M-32.0,195.2L-18.4,186.0L-1.2,179.8L27.1,176.1L36.9,171.8L54.1,180.4L66.4,187.8L91.0,187.8L91.0,206.0L-32.0,206.0Z" fill="#fff" opacity="1.0"/></g><use href="#icep" fill="#fff"/></g><use href="#waterp" fill="#fff"/><use href="#borderp" fill="none" stroke="#111" stroke-width="0.7"/><use href="#landp" fill="none" stroke="#000" stroke-width="1.15" stroke-linejoin="round"/><use href="#waterp" fill="none" stroke="#111" stroke-width="0.8"/><use href="#gridg"/></g><use href="#pole"/><circle r="198.0" fill="none" stroke="#222" stroke-width="1.05"/></g><text x="1292.5" y="1598" font-size="37">(g)</text><text x="1534.5" y="1622.0" font-size="33.6" font-weight="bold" text-anchor="middle">δSM<tspan dy="16.5" font-size="26.9">JJA</tspan><tspan dy="-16.5">/δVPD</tspan><tspan dy="16.5" font-size="26.9">JJA</tspan></text><line x1="1294.4" y1="2014.2" x2="1294.4" y2="2068.2" stroke="#111" stroke-width="1.3"/><text x="1297.4" y="2024.7" font-size="21.5">Area fraction</text><rect x="1294.4" y="2033.2" width="128.9" height="18" fill="#b56d33"/><rect x="1294.4" y="2033.2" width="9.0" height="18" fill="#234e6c"/><rect x="1294.4" y="2033.2" width="128.9" height="18" fill="none" stroke="#111" stroke-width="1.4"/><line x1="1303.4" y1="2033.2" x2="1303.4" y2="2051.2" stroke="#111" stroke-width="1.3"/><text x="1299.7" y="2083.7" font-size="21.5" text-anchor="middle">7%</text><text x="1364.2" y="2083.7" font-size="21.5" text-anchor="middle">93%</text><path d="M1345.4,2113.05L1365.9,2093.8H1703.1L1723.6,2113.05L1703.1,2132.3H1365.9Z" fill="url(#cb2)" stroke="#111" stroke-width="1.5" stroke-linejoin="miter"/><text x="1365.9" y="2168.5" font-size="24.7" text-anchor="middle">-1</text><line x1="1534.5" y1="2132.3" x2="1534.5" y2="2127.8" stroke="#111" stroke-width="1.2"/><text x="1534.5" y="2168.5" font-size="24.7" text-anchor="middle">-0.5</text><text x="1703.1" y="2168.5" font-size="24.7" text-anchor="middle">0</text><text x="1534.5" y="2211.8" font-size="27" font-weight="bold" text-anchor="middle">10<tspan dy="-13" font-size="21.6">-2</tspan><tspan dy="13"> m</tspan><tspan dy="-13" font-size="21.6">3</tspan><tspan dy="13">·m</tspan><tspan dy="-13" font-size="21.6">-3</tspan><tspan dy="13">/hPa</tspan></text></svg></body></html>
